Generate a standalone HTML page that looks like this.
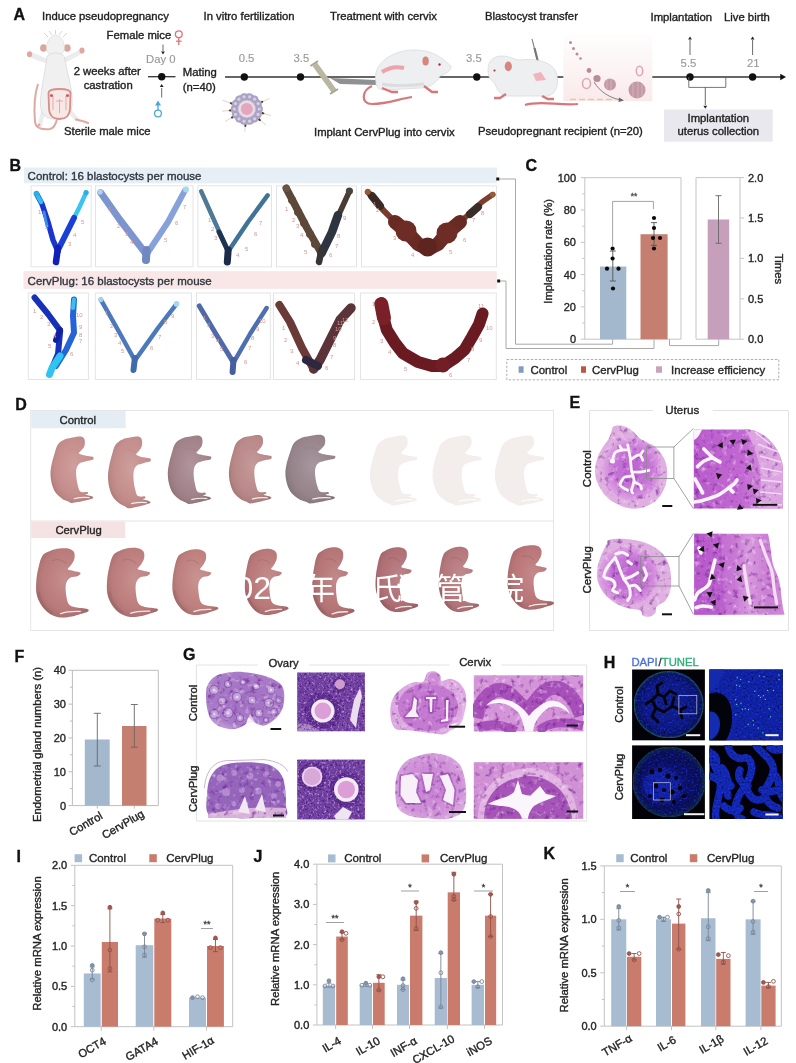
<!DOCTYPE html>
<html><head><meta charset="utf-8"><title>Figure</title>
<style>html,body{margin:0;padding:0;background:#fff;}body{width:796px;height:1063px;overflow:hidden;}svg{display:block;filter:blur(0.4px);}</style>
</head><body>
<svg width="796" height="1063" viewBox="0 0 796 1063" font-family='"Liberation Sans", Arial, sans-serif'>
<rect width="796" height="1063" fill="#fff"/>
<text x="13.5" y="20" font-size="16" fill="#111" font-weight="bold" stroke="#111" stroke-width="0.35">A</text>
<text x="42" y="19.8" font-size="11.3" fill="#222" stroke="#222" stroke-width="0.36">Induce pseudopregnancy</text>
<text x="203.5" y="19.8" font-size="11.3" fill="#222" stroke="#222" stroke-width="0.36">In vitro fertilization</text>
<text x="330" y="19.8" font-size="11.3" fill="#222" stroke="#222" stroke-width="0.36">Treatment with cervix</text>
<text x="485" y="19.8" font-size="11.3" fill="#222" stroke="#222" stroke-width="0.36">Blastocyst transfer</text>
<text x="650.5" y="21" font-size="11.3" fill="#222" stroke="#222" stroke-width="0.36">Implantation</text>
<text x="724" y="21" font-size="11.3" fill="#222" stroke="#222" stroke-width="0.36">Live birth</text>
<g><path d="M38,84 C34,96 34,110 35,122 C36,128 42,130 50,129 C54,128 56,124 57,119" fill="none" stroke="#dcaaa2" stroke-width="2"/>
<path d="M47,61 C41,59 35,57 30,54" fill="none" stroke="#ececec" stroke-width="5" stroke-linecap="round"/>
<path d="M65,60 C71,57 77,54 81.5,51" fill="none" stroke="#ececec" stroke-width="5" stroke-linecap="round"/>
<ellipse cx="29.5" cy="54.3" rx="2.6" ry="3" fill="#e0a8a0"/>
<ellipse cx="82" cy="50.5" rx="2.6" ry="3" fill="#e0a8a0"/>
<path d="M45,108 C42,114 41,120 40,125" fill="none" stroke="#ececec" stroke-width="4.5" stroke-linecap="round"/>
<path d="M69,110 C72,114 74,117 77,119" fill="none" stroke="#ececec" stroke-width="4.5" stroke-linecap="round"/>
<path d="M76,119.5 L84,121.5 L88,123" fill="none" stroke="#dfaaa2" stroke-width="2.2" stroke-linecap="round"/>
<path d="M40,124 L37,127" fill="none" stroke="#dfaaa2" stroke-width="2.2"/>
<ellipse cx="43.5" cy="48" rx="3.4" ry="3.8" fill="#d9a6a0"/>
<ellipse cx="67.3" cy="48" rx="3.4" ry="3.8" fill="#d9a6a0"/>
<path d="M55.5,35 C60,35 64.5,41 64.5,48 C64.5,53 60,56 55.5,56 C51,56 46.5,53 46.5,48 C46.5,41 51,35 55.5,35 Z" fill="#f1f1f1" stroke="#d8d8d8" stroke-width="0.6"/>
<path d="M47,57 C48,54 52,53 55.5,53 C59,53 63,54 64.5,57 L67,70 C70,82 73,96 72,106 C71,114 66,119 58,119 L54,119 C46,119 41,114 40.5,106 C40,96 43,82 45,70 Z" fill="#f0f0f0" stroke="#d6d6d6" stroke-width="0.7"/>
<path d="M48.5,93 C48.5,90 52,89 59.5,89 C67,89 70.5,90 70.5,93 L70,108 C70,116 65,119 59.5,119 C54,119 49,116 49,108 Z" fill="#f7e8e6" stroke="#d88e8a" stroke-width="1.8"/>
<path d="M53,96 L53,110 M66,96 L66,110 M59.5,99 L59.5,113 M56,101 L63,101" fill="none" stroke="#e4aaa6" stroke-width="1"/>
<circle cx="51.5" cy="95.5" r="1.6" fill="#c4606a"/>
<circle cx="67.5" cy="95.5" r="1.6" fill="#c4606a"/>
<path d="M48,37 L44,33 M63,37 L67,33 M55.5,34 L55.5,30 M52,35 L49,31 M59,35 L62,31" fill="none" stroke="#b8b8b8" stroke-width="0.6"/>
</g>
<text x="64" y="134.5" font-size="11.3" fill="#222" stroke="#222" stroke-width="0.36">Sterile male mice</text>
<text x="106.6" y="38.5" font-size="11.3" fill="#222" stroke="#222" stroke-width="0.36">Female mice</text>
<circle cx="178.8" cy="34.2" r="3.4" fill="none" stroke="#e07078" stroke-width="1.3"/>
<line x1="178.8" y1="37.6" x2="178.8" y2="45" stroke="#e07078" stroke-width="1.3"/>
<line x1="176" y1="41.2" x2="181.6" y2="41.2" stroke="#e07078" stroke-width="1.2"/>
<line x1="163" y1="44.5" x2="163" y2="51" stroke="#444" stroke-width="0.8"/>
<path d="M161.1,51.46 L164.9,51.46 L163,54.5 Z" fill="#222"/>
<text x="146" y="63" font-size="11.3" fill="#9a9a9a" stroke="#9a9a9a" stroke-width="0.15">Day 0</text>
<line x1="148" y1="76.7" x2="175.5" y2="76.7" stroke="#333" stroke-width="1.3"/>
<circle cx="161.7" cy="76.7" r="3.7" fill="#111"/>
<text x="73.7" y="75.4" font-size="11.3" fill="#222" stroke="#222" stroke-width="0.36">2 weeks after</text>
<text x="83.7" y="89.1" font-size="11.3" fill="#222" stroke="#222" stroke-width="0.36">castration</text>
<line x1="161.7" y1="97.5" x2="161.7" y2="88" stroke="#444" stroke-width="0.8"/>
<path d="M159.79999999999998,87.04 L163.6,87.04 L161.7,84 Z" fill="#222"/>
<circle cx="158" cy="113.5" r="3.4" fill="none" stroke="#4aa8d8" stroke-width="1.3"/>
<line x1="158" y1="110" x2="158" y2="104" stroke="#4aa8d8" stroke-width="1.3"/>
<path d="M155,105.5 L161,105.5 L158,100.5 Z" fill="#4aa8d8"/>
<text x="182.8" y="75.6" font-size="11.3" fill="#222" stroke="#222" stroke-width="0.36">Mating</text>
<text x="182.8" y="90.6" font-size="11.3" fill="#222" stroke="#222" stroke-width="0.36">(n=40)</text>
<line x1="225" y1="77" x2="782" y2="77" stroke="#333" stroke-width="1.3"/>
<path d="M780.24,73.8 L780.24,80.2 L786,77 Z" fill="#111"/>
<circle cx="244.3" cy="77" r="3.7" fill="#111"/>
<circle cx="300.5" cy="77" r="3.7" fill="#111"/>
<circle cx="476.8" cy="77" r="3.7" fill="#111"/>
<circle cx="690" cy="77" r="3.7" fill="#111"/>
<circle cx="752.6" cy="77" r="3.7" fill="#111"/>
<text x="238.7" y="61.5" font-size="11.3" fill="#9a9a9a" stroke="#9a9a9a" stroke-width="0.15">0.5</text>
<text x="293.5" y="61.5" font-size="11.3" fill="#9a9a9a" stroke="#9a9a9a" stroke-width="0.15">3.5</text>
<text x="466" y="61.5" font-size="11.3" fill="#9a9a9a" stroke="#9a9a9a" stroke-width="0.15">3.5</text>
<text x="680.6" y="67.3" font-size="11.3" fill="#9a9a9a" stroke="#9a9a9a" stroke-width="0.15">5.5</text>
<text x="747" y="67.3" font-size="11.3" fill="#9a9a9a" stroke="#9a9a9a" stroke-width="0.15">21</text>
<g><line x1="222.4" y1="100.1" x2="231.8" y2="103.5" stroke="#c9b9a8" stroke-width="0.6"/>
<ellipse cx="231.8" cy="103.5" rx="2.2" ry="1.1" fill="#5a3626" transform="rotate(200 231.8 103.5)"/>
<line x1="221.9" y1="111.2" x2="230.9" y2="110.4" stroke="#c9b9a8" stroke-width="0.6"/>
<ellipse cx="230.9" cy="110.4" rx="2.2" ry="1.1" fill="#5a3626" transform="rotate(175 230.9 110.4)"/>
<line x1="225.1" y1="121.5" x2="232.9" y2="117.0" stroke="#c9b9a8" stroke-width="0.6"/>
<ellipse cx="232.9" cy="117.0" rx="2.2" ry="1.1" fill="#5a3626" transform="rotate(150 232.9 117.0)"/>
<line x1="269.5" y1="98.4" x2="261.3" y2="102.2" stroke="#c9b9a8" stroke-width="0.6"/>
<ellipse cx="261.3" cy="102.2" rx="2.2" ry="1.1" fill="#5a3626" transform="rotate(335 261.3 102.2)"/>
<line x1="270.9" y1="115.5" x2="262.3" y2="113.1" stroke="#c9b9a8" stroke-width="0.6"/>
<ellipse cx="262.3" cy="113.1" rx="2.2" ry="1.1" fill="#5a3626" transform="rotate(15 262.3 113.1)"/>
<line x1="266.0" y1="125.1" x2="259.1" y2="119.3" stroke="#c9b9a8" stroke-width="0.6"/>
<ellipse cx="259.1" cy="119.3" rx="2.2" ry="1.1" fill="#5a3626" transform="rotate(40 259.1 119.3)"/>
<line x1="244.8" y1="131.9" x2="245.4" y2="124.9" stroke="#c9b9a8" stroke-width="0.6"/>
<ellipse cx="245.4" cy="124.9" rx="2.2" ry="1.1" fill="#5a3626" transform="rotate(95 245.4 124.9)"/>
<circle cx="246.8" cy="109" r="15.5" fill="#bdb8d2"/>
<circle cx="259.3" cy="109.0" r="3.6" fill="#aaa3c4"/>
<circle cx="259.3" cy="109.0" r="1.6" fill="#d6d2e6"/>
<circle cx="258.1" cy="114.4" r="3.6" fill="#aaa3c4"/>
<circle cx="258.1" cy="114.4" r="1.6" fill="#d6d2e6"/>
<circle cx="254.6" cy="118.8" r="3.6" fill="#aaa3c4"/>
<circle cx="254.6" cy="118.8" r="1.6" fill="#d6d2e6"/>
<circle cx="249.6" cy="121.2" r="3.6" fill="#aaa3c4"/>
<circle cx="249.6" cy="121.2" r="1.6" fill="#d6d2e6"/>
<circle cx="244.0" cy="121.2" r="3.6" fill="#aaa3c4"/>
<circle cx="244.0" cy="121.2" r="1.6" fill="#d6d2e6"/>
<circle cx="239.0" cy="118.8" r="3.6" fill="#aaa3c4"/>
<circle cx="239.0" cy="118.8" r="1.6" fill="#d6d2e6"/>
<circle cx="235.5" cy="114.4" r="3.6" fill="#aaa3c4"/>
<circle cx="235.5" cy="114.4" r="1.6" fill="#d6d2e6"/>
<circle cx="234.3" cy="109.0" r="3.6" fill="#aaa3c4"/>
<circle cx="234.3" cy="109.0" r="1.6" fill="#d6d2e6"/>
<circle cx="235.5" cy="103.6" r="3.6" fill="#aaa3c4"/>
<circle cx="235.5" cy="103.6" r="1.6" fill="#d6d2e6"/>
<circle cx="239.0" cy="99.2" r="3.6" fill="#aaa3c4"/>
<circle cx="239.0" cy="99.2" r="1.6" fill="#d6d2e6"/>
<circle cx="244.0" cy="96.8" r="3.6" fill="#aaa3c4"/>
<circle cx="244.0" cy="96.8" r="1.6" fill="#d6d2e6"/>
<circle cx="249.6" cy="96.8" r="3.6" fill="#aaa3c4"/>
<circle cx="249.6" cy="96.8" r="1.6" fill="#d6d2e6"/>
<circle cx="254.6" cy="99.2" r="3.6" fill="#aaa3c4"/>
<circle cx="254.6" cy="99.2" r="1.6" fill="#d6d2e6"/>
<circle cx="258.1" cy="103.6" r="3.6" fill="#aaa3c4"/>
<circle cx="258.1" cy="103.6" r="1.6" fill="#d6d2e6"/>
<circle cx="246.8" cy="109" r="8.5" fill="#e9dbe6"/>
<circle cx="246.8" cy="109" r="6" fill="#e3a6ba"/>
</g>
<path d="M330,78 L376,80 L376,85 L340,84 Z" fill="#8e9092"/>
<path d="M312.5,66 L317,62.5 L336.5,89.5 L332,93 Z" fill="#b9b79f"/>
<path d="M310.5,66 L318,61 M330,94 L338,89" fill="none" stroke="#a8a68e" stroke-width="2"/>
<path d="M372,86 C362,90 360,104 372,104 C388,104 398,99 412,97" fill="none" stroke="#d7777a" stroke-width="2.2"/>
<path d="M376,82 C372,64 392,50 414,50 C428,50 436,54 444,60 L451,66 C452,70 446,74 440,76 C436,84 428,88 420,88 L384,90 C378,90 376,86 376,82 Z" fill="#eeeff1" stroke="#d9dadd" stroke-width="0.8"/>
<path d="M382,84 C392,86 410,86 424,84" fill="none" stroke="#dcdde0" stroke-width="3"/>
<path d="M382,72 C388,68 396,66 404,68" fill="none" stroke="#eba3ad" stroke-width="4"/>
<ellipse cx="425.6" cy="61" rx="3.2" ry="4.5" fill="#d8857f"/>
<circle cx="439.5" cy="64.5" r="1.2" fill="#a33"/>
<path d="M382,88 L392,92 L398,92 M424,86 L432,92 L438,92" fill="none" stroke="#d7777a" stroke-width="2.4"/>
<line x1="532" y1="38.8" x2="540.3" y2="71.5" stroke="#8a8a8a" stroke-width="1.2"/>
<line x1="534.5" y1="48" x2="538" y2="62" stroke="#777" stroke-width="2.2"/>
<path d="M525,105 C540,100 560,106 578,104" fill="none" stroke="#d7777a" stroke-width="2.2"/>
<path d="M488,70 C488,60 494,56 502,56 C510,56 514,60 520,60 C536,58 552,62 556,72 C560,84 556,94 548,96 L506,96 C498,94 496,86 494,82 C490,80 488,76 488,70 Z" fill="#eeeff1" stroke="#d9dadd" stroke-width="0.8"/>
<ellipse cx="508.3" cy="66.4" rx="3.6" ry="4.8" fill="#d8857f"/>
<circle cx="494.5" cy="70.5" r="1.1" fill="#a33"/>
<path d="M533,74 L541,72 L546,80 L536,81 Z" fill="#f0b4bc"/>
<path d="M506,94 L500,98 L494,98 M542,96 L548,99 L554,99" fill="none" stroke="#d7777a" stroke-width="2.4"/>
<defs><linearGradient id="ins" x1="0" y1="0" x2="0" y2="1"><stop offset="0" stop-color="#fefdfd"/><stop offset="0.5" stop-color="#fcf4f4"/><stop offset="1" stop-color="#fae9ea"/></linearGradient></defs>
<rect x="563.3" y="34.7" width="89" height="66.3" fill="url(#ins)"/>
<circle cx="570.5" cy="42.5" r="1.5" fill="#b98a9a"/>
<circle cx="573.5" cy="48.5" r="1.5" fill="#b98a9a"/>
<circle cx="577" cy="54" r="1.5" fill="#b98a9a"/>
<circle cx="580.5" cy="58.5" r="1.3" fill="#b98a9a"/>
<circle cx="589" cy="70.5" r="2.4" fill="#b98a9a"/>
<circle cx="597" cy="78.5" r="3.6" fill="#b98a9a"/>
<ellipse cx="586.5" cy="83.5" rx="4" ry="5" fill="none" stroke="#e0a6b6" stroke-width="1.6"/>
<ellipse cx="639.5" cy="71" rx="3.2" ry="4.8" fill="none" stroke="#e0a6b6" stroke-width="1.6"/>
<circle cx="610" cy="84.5" r="6" fill="#c29aa6"/>
<circle cx="637" cy="90" r="8.5" fill="#c29aa6"/>
<path d="M607,80 L607,89 M611,79 L611,90 M633,83 L633,97 M638,82 L638,98 M642,84 L642,96" fill="none" stroke="#d9b6c0" stroke-width="0.8"/>
<path d="M594,82 C600,92 610,98 621,100" fill="none" stroke="#777" stroke-width="0.9"/>
<path d="M619,97.5 L624,100.5 L618.5,102 Z" fill="#666"/>
<line x1="570" y1="99.5" x2="616" y2="99.5" stroke="#f1c4a6" stroke-width="1.4" stroke-dasharray="6 3"/>
<line x1="690" y1="55" x2="690" y2="40" stroke="#444" stroke-width="0.8"/>
<path d="M688.1,39.54 L691.9,39.54 L690,36.5 Z" fill="#222"/>
<line x1="752.6" y1="55" x2="752.6" y2="40" stroke="#444" stroke-width="0.8"/>
<path d="M750.7,39.54 L754.5,39.54 L752.6,36.5 Z" fill="#222"/>
<polyline points="688.8,77 688.8,87.4 725.8,87.4 725.8,77" fill="none" stroke="#666" stroke-width="0.9"/>
<line x1="705.3" y1="87.4" x2="705.3" y2="105" stroke="#444" stroke-width="0.8"/>
<path d="M703.4,105.66 L707.1999999999999,105.66 L705.3,108.7 Z" fill="#222"/>
<rect x="664" y="109.5" width="108.7" height="32.2" fill="#e9e8ef"/>
<text x="718.3" y="121.6" font-size="11.3" fill="#222" text-anchor="middle" stroke="#222" stroke-width="0.36">Implantation</text>
<text x="718.3" y="135" font-size="11.3" fill="#222" text-anchor="middle" stroke="#222" stroke-width="0.36">uterus collection</text>
<text x="314" y="136" font-size="11.3" fill="#222" stroke="#222" stroke-width="0.36">Implant CervPlug into cervix</text>
<text x="478" y="135" font-size="11.3" fill="#222" stroke="#222" stroke-width="0.36">Pseudopregnant recipient (n=20)</text>
<text x="9.5" y="170.5" font-size="16" fill="#111" font-weight="bold" stroke="#111" stroke-width="0.35">B</text>
<rect x="24" y="167.5" width="473" height="15.8" fill="#e6eff5"/>
<text x="27.6" y="179.6" font-size="11.5" fill="#2f3640" stroke="#2f3640" stroke-width="0.36">Control: 16 blastocysts per mouse</text>
<rect x="23.5" y="271.2" width="473.3" height="17.6" fill="#f8e7e6"/>
<text x="27.6" y="284.5" font-size="11.5" fill="#2f3640" stroke="#2f3640" stroke-width="0.36">CervPlug: 16 blastocysts per mouse</text>
<rect x="31.1" y="185.8" width="60.1" height="81" fill="#fff" stroke="#e4e4e4" stroke-width="1"/>
<rect x="95.5" y="185.8" width="97.5" height="81" fill="#fff" stroke="#e4e4e4" stroke-width="1"/>
<rect x="197.9" y="185.8" width="73.6" height="81" fill="#fff" stroke="#e4e4e4" stroke-width="1"/>
<rect x="276.5" y="185.8" width="80" height="81" fill="#fff" stroke="#e4e4e4" stroke-width="1"/>
<rect x="361.5" y="185.8" width="135" height="81" fill="#fff" stroke="#e4e4e4" stroke-width="1"/>
<rect x="28.3" y="293" width="60.10000000000001" height="86.5" fill="#fff" stroke="#e4e4e4" stroke-width="1"/>
<rect x="95.3" y="293" width="96.2" height="86.5" fill="#fff" stroke="#e4e4e4" stroke-width="1"/>
<rect x="196.5" y="293" width="73.80000000000001" height="86.5" fill="#fff" stroke="#e4e4e4" stroke-width="1"/>
<rect x="273.5" y="293" width="81" height="86.5" fill="#fff" stroke="#e4e4e4" stroke-width="1"/>
<rect x="360.5" y="293" width="135.8" height="86.5" fill="#fff" stroke="#e4e4e4" stroke-width="1"/>
<path d="M36.5,193.7 L42,204 L48,222 L53,240 L57.9,251.3" fill="none" stroke="#1a34d0" stroke-width="5.5" stroke-linecap="round" stroke-linejoin="round"/>
<path d="M36.5,193.7 L41,202" fill="none" stroke="#2fc0f0" stroke-width="4.5" stroke-linecap="round" stroke-linejoin="round"/>
<path d="M86.1,192.6 L80,206 L74,218" fill="none" stroke="#3cc4f0" stroke-width="4.5" stroke-linecap="round" stroke-linejoin="round"/>
<path d="M74,218 L66,234 L58,250" fill="none" stroke="#1a40d8" stroke-width="6" stroke-linecap="round" stroke-linejoin="round"/>
<path d="M57.9,248 L56,262" fill="none" stroke="#1020b8" stroke-width="6.5" stroke-linecap="round" stroke-linejoin="round"/>
<path d="M44,212 L47,226" fill="none" stroke="#3a8ae8" stroke-width="3" stroke-linecap="round" stroke-linejoin="round"/>
<circle cx="36.5" cy="193.7" r="2.6" fill="#2ab0e6"/>
<circle cx="86.1" cy="192.6" r="2.6" fill="#2ab0e6"/>
<text x="38" y="214" font-size="6" fill="#d99590">1</text>
<text x="45" y="229" font-size="6" fill="#d99590">2</text>
<text x="68" y="246" font-size="6" fill="#d99590">3</text>
<text x="73" y="237" font-size="6" fill="#d99590">4</text>
<text x="81" y="224" font-size="6" fill="#d99590">5</text>
<path d="M100.6,192.6 L120,220 L146.5,254.5" fill="none" stroke="#7c95cf" stroke-width="7" stroke-linecap="round" stroke-linejoin="round"/>
<path d="M185,190.4 L168,222 L146.5,254.5" fill="none" stroke="#87a2db" stroke-width="6" stroke-linecap="round" stroke-linejoin="round"/>
<path d="M146.5,250 L146,260" fill="none" stroke="#6f88bf" stroke-width="8" stroke-linecap="round" stroke-linejoin="round"/>
<circle cx="186" cy="189.5" r="3" fill="#a8d8f0"/>
<circle cx="100" cy="192" r="2.8" fill="#b0d0ec"/>
<text x="108" y="211" font-size="6" fill="#d99590">1</text>
<text x="117" y="228" font-size="6" fill="#d99590">2</text>
<text x="125" y="236" font-size="6" fill="#d99590">3</text>
<text x="130" y="244" font-size="6" fill="#d99590">4</text>
<text x="164" y="242" font-size="6" fill="#d99590">5</text>
<text x="175" y="225" font-size="6" fill="#d99590">6</text>
<text x="183" y="209" font-size="6" fill="#d99590">7</text>
<path d="M201.2,191.3 L214,220 L228.2,251.4" fill="none" stroke="#4f7896" stroke-width="4.5" stroke-linecap="round" stroke-linejoin="round"/>
<path d="M219,232 L228.2,251.4" fill="none" stroke="#1f3352" stroke-width="5" stroke-linecap="round" stroke-linejoin="round"/>
<path d="M267.6,195.4 L248,222 L228.2,251.4" fill="none" stroke="#3f7498" stroke-width="4.5" stroke-linecap="round" stroke-linejoin="round"/>
<path d="M228.2,250 L227.3,262" fill="none" stroke="#1c2c48" stroke-width="7" stroke-linecap="round" stroke-linejoin="round"/>
<text x="208" y="222" font-size="6" fill="#d99590">1</text>
<text x="211" y="231" font-size="6" fill="#d99590">2</text>
<text x="214" y="240" font-size="6" fill="#d99590">3</text>
<text x="236" y="257" font-size="6" fill="#d99590">4</text>
<text x="245" y="251" font-size="6" fill="#d99590">5</text>
<text x="254" y="236" font-size="6" fill="#d99590">6</text>
<text x="259" y="225" font-size="6" fill="#d99590">7</text>
<path d="M286.2,188.2 L295,205 L307,228 L321.5,253.5" fill="none" stroke="#5c4838" stroke-width="7.5" stroke-linecap="round" stroke-linejoin="round"/>
<path d="M349.4,191.3 L340,212 L332,232 L321.5,253.5" fill="none" stroke="#4a3c34" stroke-width="5.5" stroke-linecap="round" stroke-linejoin="round"/>
<path d="M338,215 L332,232 L321.5,253.5" fill="none" stroke="#2e3440" stroke-width="8.5" stroke-linecap="round" stroke-linejoin="round"/>
<path d="M321.5,250 L319,262" fill="none" stroke="#3a3535" stroke-width="6.5" stroke-linecap="round" stroke-linejoin="round"/>
<circle cx="292" cy="200" r="4" fill="#5e4838"/>
<circle cx="298" cy="212" r="4" fill="#5e4838"/>
<circle cx="304" cy="223" r="4" fill="#5e4838"/>
<circle cx="310" cy="234" r="4" fill="#5e4838"/>
<circle cx="315" cy="244" r="4" fill="#5e4838"/>
<circle cx="286.5" cy="188.5" r="3.5" fill="#6a5545"/>
<circle cx="349.4" cy="191" r="3.6" fill="#4a4440"/>
<text x="285" y="211" font-size="6" fill="#d99590">1</text>
<text x="292" y="222" font-size="6" fill="#d99590">2</text>
<text x="296" y="228" font-size="6" fill="#d99590">3</text>
<text x="300" y="237" font-size="6" fill="#d99590">4</text>
<text x="304" y="254" font-size="6" fill="#d99590">5</text>
<text x="329" y="257" font-size="6" fill="#d99590">6</text>
<text x="335" y="248" font-size="6" fill="#d99590">7</text>
<text x="337" y="238" font-size="6" fill="#d99590">8</text>
<text x="343" y="220" font-size="6" fill="#d99590">9</text>
<path d="M367.8,191.9 L375,200 L383,209.8 L395,222" fill="none" stroke="#7a3a2c" stroke-width="6" stroke-linecap="round" stroke-linejoin="round"/>
<path d="M492.7,194.6 L482,202 L472,211.5 L460,222" fill="none" stroke="#7e3e2e" stroke-width="5.5" stroke-linecap="round" stroke-linejoin="round"/>
<path d="M372,196 L380,206" fill="none" stroke="#3a2a25" stroke-width="8" stroke-linecap="round" stroke-linejoin="round"/>
<path d="M470,214 L478,207" fill="none" stroke="#3a2d28" stroke-width="8" stroke-linecap="round" stroke-linejoin="round"/>
<path d="M395,222 L406,231 L418,244 L428,249 L438,244 L448,232 L460,222" fill="none" stroke="#6a2a24" stroke-width="14" stroke-linecap="round" stroke-linejoin="round"/>
<circle cx="406" cy="231" r="10.5" fill="#6e2c26"/>
<circle cx="447" cy="233" r="10.5" fill="#6e2c26"/>
<circle cx="427.6" cy="247" r="9.5" fill="#5e241f"/>
<circle cx="367.8" cy="191.9" r="2.8" fill="#9a5a38"/>
<circle cx="492.7" cy="194.6" r="2.8" fill="#9a5a38"/>
<text x="373" y="206" font-size="6" fill="#d99590">1</text>
<text x="376" y="212" font-size="6" fill="#d99590">2</text>
<text x="393" y="240" font-size="6" fill="#d99590">3</text>
<text x="411" y="257" font-size="6" fill="#d99590">4</text>
<text x="449" y="254" font-size="6" fill="#d99590">5</text>
<text x="463" y="242" font-size="6" fill="#d99590">6</text>
<text x="472" y="222" font-size="6" fill="#d99590">7</text>
<text x="481" y="215" font-size="6" fill="#d99590">8</text>
<path d="M34.5,297.5 L48,314 L60.2,330.6 L58,354 L52,368" fill="none" stroke="#1630b8" stroke-width="6" stroke-linecap="round" stroke-linejoin="round"/>
<path d="M74,299.6 L73,316 L74,332.7 L66,350 L56,366" fill="none" stroke="#2464d8" stroke-width="6" stroke-linecap="round" stroke-linejoin="round"/>
<path d="M74,299.6 L73,308" fill="none" stroke="#3ac0ee" stroke-width="4" stroke-linecap="round" stroke-linejoin="round"/>
<path d="M60,356 L52,368 L49.5,374.4" fill="none" stroke="#30c4f0" stroke-width="7" stroke-linecap="round" stroke-linejoin="round"/>
<path d="M56,340 L60,330" fill="none" stroke="#1020a0" stroke-width="6" stroke-linecap="round" stroke-linejoin="round"/>
<text x="33" y="313" font-size="6" fill="#d99590">1</text>
<text x="40" y="319" font-size="6" fill="#d99590">2</text>
<text x="47" y="326" font-size="6" fill="#d99590">3</text>
<text x="53" y="338" font-size="6" fill="#d99590">4</text>
<text x="48" y="348" font-size="6" fill="#d99590">5</text>
<text x="70" y="356" font-size="6" fill="#d99590">6</text>
<text x="79" y="343" font-size="6" fill="#d99590">7</text>
<text x="79" y="337" font-size="6" fill="#d99590">8</text>
<text x="79" y="329" font-size="6" fill="#d99590">9</text>
<text x="76" y="317" font-size="6" fill="#d99590">10</text>
<path d="M100.8,299.6 L118,330 L134.9,360.5" fill="none" stroke="#4a7abc" stroke-width="4.5" stroke-linecap="round" stroke-linejoin="round"/>
<path d="M176.6,303.9 L158,328 L134.9,360.5" fill="none" stroke="#4a7abc" stroke-width="4.5" stroke-linecap="round" stroke-linejoin="round"/>
<path d="M134.9,358 L133.5,370" fill="none" stroke="#3f6aab" stroke-width="6" stroke-linecap="round" stroke-linejoin="round"/>
<circle cx="100.8" cy="299.6" r="2.6" fill="#a8d0e8"/>
<circle cx="176.6" cy="303.9" r="2.8" fill="#a8d8ee"/>
<text x="105" y="315" font-size="6" fill="#d99590">1</text>
<text x="110" y="328" font-size="6" fill="#d99590">2</text>
<text x="114" y="337" font-size="6" fill="#d99590">3</text>
<text x="118" y="345" font-size="6" fill="#d99590">4</text>
<text x="121" y="353" font-size="6" fill="#d99590">5</text>
<text x="150" y="350" font-size="6" fill="#d99590">6</text>
<text x="158" y="339" font-size="6" fill="#d99590">7</text>
<text x="164" y="324" font-size="6" fill="#d99590">8</text>
<text x="171" y="318" font-size="6" fill="#d99590">9</text>
<path d="M199.3,306 L216,334 L233.5,362.6" fill="none" stroke="#5069a9" stroke-width="5" stroke-linecap="round" stroke-linejoin="round"/>
<path d="M266.6,308 L250,334 L233.5,362.6" fill="none" stroke="#4d6fb0" stroke-width="4.5" stroke-linecap="round" stroke-linejoin="round"/>
<path d="M233.5,360 L232.6,372" fill="none" stroke="#465f9f" stroke-width="6" stroke-linecap="round" stroke-linejoin="round"/>
<text x="203" y="320" font-size="6" fill="#d99590">1</text>
<text x="207" y="327" font-size="6" fill="#d99590">2</text>
<text x="211" y="338" font-size="6" fill="#d99590">3</text>
<text x="216" y="343" font-size="6" fill="#d99590">4</text>
<text x="220" y="351" font-size="6" fill="#d99590">5</text>
<text x="244" y="364" font-size="6" fill="#d99590">6</text>
<text x="248" y="350" font-size="6" fill="#d99590">7</text>
<text x="251" y="340" font-size="6" fill="#d99590">8</text>
<text x="256" y="331" font-size="6" fill="#d99590">9</text>
<text x="259" y="323" font-size="6" fill="#d99590">10</text>
<path d="M279.4,305 L290,322 L302,348 L313.6,369" fill="none" stroke="#6a3a36" stroke-width="8" stroke-linecap="round" stroke-linejoin="round"/>
<path d="M351,308 L340,320 L330,340 L320,360 L313.6,369" fill="none" stroke="#5a3438" stroke-width="9.5" stroke-linecap="round" stroke-linejoin="round"/>
<path d="M306,360 L318,366" fill="none" stroke="#2d2840" stroke-width="8" stroke-linecap="round" stroke-linejoin="round"/>
<text x="282" y="330" font-size="6" fill="#d99590">1</text>
<text x="284" y="342" font-size="6" fill="#d99590">2</text>
<text x="290" y="353" font-size="6" fill="#d99590">3</text>
<text x="296" y="365" font-size="6" fill="#d99590">4</text>
<text x="325" y="370" font-size="6" fill="#d99590">6</text>
<text x="330" y="359" font-size="6" fill="#d99590">7</text>
<text x="333" y="347" font-size="6" fill="#d99590">8</text>
<text x="333" y="340" font-size="6" fill="#d99590">9</text>
<text x="335" y="331" font-size="6" fill="#d99590">10</text>
<text x="337" y="325" font-size="6" fill="#d99590">11</text>
<text x="342" y="322" font-size="6" fill="#d99590">12</text>
<path d="M381.3,303.5 L383,316 L386.8,329.8 L395,343 L403,353.3 L418,362 L432,366 L442.8,366 L455,358 L464.5,349.7 L472,337 L479,324.4 L482.6,313.5" fill="none" stroke="#6a1b22" stroke-width="12" stroke-linecap="round" stroke-linejoin="round"/>
<path d="M381.3,304 L384,318" fill="none" stroke="#7a2028" stroke-width="14" stroke-linecap="round" stroke-linejoin="round"/>
<circle cx="442.8" cy="365" r="7.5" fill="#721e26"/>
<text x="372" y="306" font-size="6" fill="#d99590">1</text>
<text x="372" y="324" font-size="6" fill="#d99590">2</text>
<text x="380" y="343" font-size="6" fill="#d99590">3</text>
<text x="388" y="354" font-size="6" fill="#d99590">4</text>
<text x="404" y="371" font-size="6" fill="#d99590">5</text>
<text x="449" y="377" font-size="6" fill="#d99590">6</text>
<text x="467" y="362" font-size="6" fill="#d99590">7</text>
<text x="471" y="351" font-size="6" fill="#d99590">8</text>
<text x="479" y="342" font-size="6" fill="#d99590">9</text>
<text x="486" y="330" font-size="6" fill="#d99590">10</text>
<text x="478" y="308" font-size="6" fill="#d99590">11</text>
<rect x="496.3" y="177.5" width="3" height="3" fill="#111"/>
<rect x="497.2" y="279.5" width="3" height="3" fill="#111"/>
<polyline points="499,179 515.5,179 515.5,344.2 612.6,344.2 612.6,339" fill="none" stroke="#a8a8a8" stroke-width="1"/>
<polyline points="500,281 506,281 506,348.5 654,348.5 654,339" fill="none" stroke="#a8a8a8" stroke-width="1"/>
<polyline points="669.5,339 669.5,345.6 718.7,345.6 718.7,339" fill="none" stroke="#a8a8a8" stroke-width="1"/>
<text x="525.5" y="171" font-size="16" fill="#111" font-weight="bold" stroke="#111" stroke-width="0.35">C</text>
<polyline points="584.8,177.7 681,177.7 681,339.2 584.8,339.2 584.8,177.7" fill="none" stroke="#c4c4c4" stroke-width="1"/>
<line x1="580.8" y1="339.2" x2="584.8" y2="339.2" stroke="#c4c4c4" stroke-width="1"/>
<text x="576" y="343.09999999999997" font-size="11" fill="#262626" text-anchor="end" stroke="#262626" stroke-width="0.36">0</text>
<line x1="580.8" y1="306.9" x2="584.8" y2="306.9" stroke="#c4c4c4" stroke-width="1"/>
<text x="576" y="310.79999999999995" font-size="11" fill="#262626" text-anchor="end" stroke="#262626" stroke-width="0.36">20</text>
<line x1="580.8" y1="274.6" x2="584.8" y2="274.6" stroke="#c4c4c4" stroke-width="1"/>
<text x="576" y="278.5" font-size="11" fill="#262626" text-anchor="end" stroke="#262626" stroke-width="0.36">40</text>
<line x1="580.8" y1="242.29999999999998" x2="584.8" y2="242.29999999999998" stroke="#c4c4c4" stroke-width="1"/>
<text x="576" y="246.2" font-size="11" fill="#262626" text-anchor="end" stroke="#262626" stroke-width="0.36">60</text>
<line x1="580.8" y1="210.0" x2="584.8" y2="210.0" stroke="#c4c4c4" stroke-width="1"/>
<text x="576" y="213.9" font-size="11" fill="#262626" text-anchor="end" stroke="#262626" stroke-width="0.36">80</text>
<line x1="580.8" y1="177.7" x2="584.8" y2="177.7" stroke="#c4c4c4" stroke-width="1"/>
<text x="576" y="181.6" font-size="11" fill="#262626" text-anchor="end" stroke="#262626" stroke-width="0.36">100</text>
<line x1="582.3" y1="323.05" x2="584.8" y2="323.05" stroke="#c4c4c4" stroke-width="1"/>
<line x1="582.3" y1="290.75" x2="584.8" y2="290.75" stroke="#c4c4c4" stroke-width="1"/>
<line x1="582.3" y1="258.45" x2="584.8" y2="258.45" stroke="#c4c4c4" stroke-width="1"/>
<line x1="582.3" y1="226.14999999999998" x2="584.8" y2="226.14999999999998" stroke="#c4c4c4" stroke-width="1"/>
<line x1="582.3" y1="193.85" x2="584.8" y2="193.85" stroke="#c4c4c4" stroke-width="1"/>
<text x="552.4" y="251.3" font-size="11.3" fill="#262626" text-anchor="middle" transform="rotate(-90 552.4 251.3)" stroke="#262626" stroke-width="0.36">Implantation rate (%)</text>
<rect x="600" y="266.525" width="26.3" height="72.67500000000001" fill="#a3b8cd"/>
<rect x="640.5" y="234.225" width="27.1" height="104.975" fill="#c57f70"/>
<line x1="612.8" y1="281" x2="612.8" y2="251" stroke="#555" stroke-width="0.9"/>
<line x1="609.8" y1="281" x2="615.8" y2="281" stroke="#555" stroke-width="0.9"/>
<line x1="609.8" y1="251" x2="615.8" y2="251" stroke="#555" stroke-width="0.9"/>
<line x1="654" y1="245.4" x2="654" y2="222.6" stroke="#555" stroke-width="0.9"/>
<line x1="651" y1="245.4" x2="657" y2="245.4" stroke="#555" stroke-width="0.9"/>
<line x1="651" y1="222.6" x2="657" y2="222.6" stroke="#555" stroke-width="0.9"/>
<circle cx="612.6" cy="248.5" r="2.1" fill="#0a0a0a"/>
<circle cx="612.6" cy="258.5" r="2.1" fill="#0a0a0a"/>
<circle cx="607" cy="268.7" r="2.1" fill="#0a0a0a"/>
<circle cx="618.5" cy="268.7" r="2.1" fill="#0a0a0a"/>
<circle cx="613" cy="288.5" r="2.1" fill="#0a0a0a"/>
<circle cx="654" cy="218" r="2.1" fill="#0a0a0a"/>
<circle cx="654" cy="228" r="2.1" fill="#0a0a0a"/>
<circle cx="653" cy="238" r="2.1" fill="#0a0a0a"/>
<circle cx="660" cy="238" r="2.1" fill="#0a0a0a"/>
<circle cx="654" cy="248.5" r="2.1" fill="#0a0a0a"/>
<polyline points="612.6,246 612.6,201.4 653.4,201.4 653.4,209" fill="none" stroke="#9a9a9a" stroke-width="0.9"/>
<text x="634" y="199" font-size="8.5" fill="#555" text-anchor="middle" stroke="#555" stroke-width="0.36">**</text>
<polyline points="740,177.6 696,177.6 696,339.2 740,339.2" fill="none" stroke="#c4c4c4" stroke-width="1"/>
<line x1="740" y1="177.6" x2="740" y2="339.2" stroke="#c4c4c4" stroke-width="1"/>
<line x1="740" y1="177.6" x2="744" y2="177.6" stroke="#c4c4c4" stroke-width="1"/>
<text x="748" y="181.5" font-size="11" fill="#262626" stroke="#262626" stroke-width="0.36">2.0</text>
<line x1="740" y1="218.0" x2="744" y2="218.0" stroke="#c4c4c4" stroke-width="1"/>
<text x="748" y="221.9" font-size="11" fill="#262626" stroke="#262626" stroke-width="0.36">1.5</text>
<line x1="740" y1="258.4" x2="744" y2="258.4" stroke="#c4c4c4" stroke-width="1"/>
<text x="748" y="262.29999999999995" font-size="11" fill="#262626" stroke="#262626" stroke-width="0.36">1.0</text>
<line x1="740" y1="298.79999999999995" x2="744" y2="298.79999999999995" stroke="#c4c4c4" stroke-width="1"/>
<text x="748" y="302.69999999999993" font-size="11" fill="#262626" stroke="#262626" stroke-width="0.36">0.5</text>
<line x1="740" y1="339.2" x2="744" y2="339.2" stroke="#c4c4c4" stroke-width="1"/>
<text x="748" y="343.09999999999997" font-size="11" fill="#262626" stroke="#262626" stroke-width="0.36">0.0</text>
<rect x="707.7" y="219.5" width="21.5" height="119.69999999999999" fill="#c6a0bb"/>
<line x1="718.5" y1="195.7" x2="718.5" y2="243.3" stroke="#666" stroke-width="0.9"/>
<line x1="715.5" y1="195.7" x2="721.5" y2="195.7" stroke="#666" stroke-width="0.9"/>
<line x1="715.5" y1="243.3" x2="721.5" y2="243.3" stroke="#666" stroke-width="0.9"/>
<text x="774.5" y="269" font-size="11.3" fill="#262626" text-anchor="middle" transform="rotate(90 774.5 269)" stroke="#262626" stroke-width="0.36">Times</text>
<rect x="506.8" y="359.5" width="272" height="20.3" fill="none" stroke="#a8a8a8" stroke-width="0.9" stroke-dasharray="2.5 1.5"/>
<rect x="518.6" y="366.3" width="5" height="6.5" fill="#7f9dbd"/>
<text x="530.5" y="373.8" font-size="11.4" fill="#262626" stroke="#262626" stroke-width="0.36">Control</text>
<rect x="581" y="366.3" width="5" height="6.5" fill="#bf5545"/>
<text x="592" y="373.8" font-size="11.4" fill="#262626" stroke="#262626" stroke-width="0.36">CervPlug</text>
<rect x="656" y="366.3" width="6" height="6.5" fill="#c9a3ba"/>
<text x="671" y="373.8" font-size="11.4" fill="#262626" stroke="#262626" stroke-width="0.36">Increase efficiency</text>
<defs><radialGradient id="pupsh" cx="0.55" cy="0.45" r="0.6"><stop offset="0" stop-color="#fff" stop-opacity="0.18"/><stop offset="0.6" stop-color="#fff" stop-opacity="0.05"/><stop offset="1" stop-color="#000" stop-opacity="0.12"/></radialGradient></defs>
<text x="15.3" y="410.3" font-size="16" fill="#111" font-weight="bold" stroke="#111" stroke-width="0.35">D</text>
<rect x="30.7" y="410.5" width="522.8" height="220" fill="#fff" stroke="#e6e6e6" stroke-width="1"/>
<line x1="30.7" y1="521" x2="553.5" y2="521" stroke="#e2e2e2" stroke-width="1"/>
<rect x="31.2" y="411" width="94.4" height="17.2" fill="#e4edf4"/>
<text x="59.6" y="424" font-size="11.3" fill="#262626" stroke="#262626" stroke-width="0.36">Control</text>
<rect x="31.2" y="521.7" width="94" height="16.3" fill="#f5e3e3"/>
<text x="55.4" y="533.8" font-size="11.3" fill="#262626" stroke="#262626" stroke-width="0.36">CervPlug</text>
<g transform="translate(50.5,436.6) scale(1.0568,0.9822)" opacity="1.0"><path d="M18.0,1.6 C19.9,1.2 24.6,0.1 26.8,0.0 C29.0,-0.1 30.2,0.3 31.2,1.2 C32.1,2.0 32.4,3.7 32.5,5.1 C32.6,6.5 32.5,8.2 32.1,9.5 C31.7,10.8 31.0,11.7 30.3,12.6 C29.6,13.5 28.7,14.5 28.1,15.2 C27.5,15.9 26.4,16.4 26.8,17.0 C27.2,17.6 28.7,18.3 30.3,18.8 C31.9,19.3 34.8,19.7 36.5,20.1 C38.2,20.5 39.9,20.4 40.5,21.0 C41.1,21.6 40.8,23.0 40.0,23.6 C39.2,24.2 37.2,24.1 35.6,24.5 C34.0,24.9 31.6,25.8 30.3,26.2 C29.0,26.6 28.6,26.4 27.7,27.1 C26.8,27.8 25.7,29.1 25.1,30.6 C24.5,32.1 24.3,33.8 24.2,35.9 C24.1,38.0 24.3,40.6 24.6,43.0 C24.9,45.4 25.4,48.0 25.9,50.0 C26.4,52.0 26.8,54.2 27.7,55.3 C28.6,56.4 30.0,56.4 31.2,56.6 C32.4,56.8 34.0,56.1 34.7,56.3 C35.4,56.5 35.9,57.4 35.6,57.9 C35.3,58.4 32.5,58.8 33.0,59.2 C33.5,59.6 37.0,60.0 38.3,60.5 C39.5,61.0 40.4,61.4 40.5,61.9 C40.6,62.4 40.1,62.8 39.1,63.2 C38.1,63.6 36.9,63.9 34.7,64.5 C32.5,65.1 28.4,66.2 25.9,66.7 C23.4,67.2 21.4,67.8 19.8,67.6 C18.2,67.4 17.8,66.5 16.3,65.8 C14.8,65.1 12.9,64.7 11.0,63.2 C9.1,61.7 6.4,59.5 4.8,57.0 C3.2,54.5 2.1,51.4 1.3,48.2 C0.5,45.0 0.0,41.2 0.0,37.7 C0.0,34.2 0.6,30.6 1.3,27.1 C2.0,23.6 3.1,19.7 4.0,16.6 C4.9,13.5 5.4,10.8 6.6,8.7 C7.8,6.6 9.5,5.4 11.0,4.3 C12.5,3.2 14.2,2.5 15.4,2.1 C16.6,1.7 16.1,2.0 18.0,1.6 Z" fill="#c48a88"/>
<path d="M18.0,1.6 C19.9,1.2 24.6,0.1 26.8,0.0 C29.0,-0.1 30.2,0.3 31.2,1.2 C32.1,2.0 32.4,3.7 32.5,5.1 C32.6,6.5 32.5,8.2 32.1,9.5 C31.7,10.8 31.0,11.7 30.3,12.6 C29.6,13.5 28.7,14.5 28.1,15.2 C27.5,15.9 26.4,16.4 26.8,17.0 C27.2,17.6 28.7,18.3 30.3,18.8 C31.9,19.3 34.8,19.7 36.5,20.1 C38.2,20.5 39.9,20.4 40.5,21.0 C41.1,21.6 40.8,23.0 40.0,23.6 C39.2,24.2 37.2,24.1 35.6,24.5 C34.0,24.9 31.6,25.8 30.3,26.2 C29.0,26.6 28.6,26.4 27.7,27.1 C26.8,27.8 25.7,29.1 25.1,30.6 C24.5,32.1 24.3,33.8 24.2,35.9 C24.1,38.0 24.3,40.6 24.6,43.0 C24.9,45.4 25.4,48.0 25.9,50.0 C26.4,52.0 26.8,54.2 27.7,55.3 C28.6,56.4 30.0,56.4 31.2,56.6 C32.4,56.8 34.0,56.1 34.7,56.3 C35.4,56.5 35.9,57.4 35.6,57.9 C35.3,58.4 32.5,58.8 33.0,59.2 C33.5,59.6 37.0,60.0 38.3,60.5 C39.5,61.0 40.4,61.4 40.5,61.9 C40.6,62.4 40.1,62.8 39.1,63.2 C38.1,63.6 36.9,63.9 34.7,64.5 C32.5,65.1 28.4,66.2 25.9,66.7 C23.4,67.2 21.4,67.8 19.8,67.6 C18.2,67.4 17.8,66.5 16.3,65.8 C14.8,65.1 12.9,64.7 11.0,63.2 C9.1,61.7 6.4,59.5 4.8,57.0 C3.2,54.5 2.1,51.4 1.3,48.2 C0.5,45.0 0.0,41.2 0.0,37.7 C0.0,34.2 0.6,30.6 1.3,27.1 C2.0,23.6 3.1,19.7 4.0,16.6 C4.9,13.5 5.4,10.8 6.6,8.7 C7.8,6.6 9.5,5.4 11.0,4.3 C12.5,3.2 14.2,2.5 15.4,2.1 C16.6,1.7 16.1,2.0 18.0,1.6 Z" fill="url(#pupsh)"/>
<path d="M3,40 C4,50 9,58 17,63" fill="none" stroke="#c48a88" stroke-width="3" opacity="0.35"/>
<path d="M22,63.3 C27,62 32,61.6 37,62.2" fill="none" stroke="#fff" stroke-width="1.2" opacity="0.85"/>
<path d="M16,14 C20,12 24,12 27,16" fill="none" stroke="#c48a88" stroke-width="1.5" opacity="0.4"/>
</g>
<g transform="translate(108,436.4) scale(1.0494,1.0636)" opacity="1.0"><path d="M18.0,1.6 C19.9,1.2 24.6,0.1 26.8,0.0 C29.0,-0.1 30.2,0.3 31.2,1.2 C32.1,2.0 32.4,3.7 32.5,5.1 C32.6,6.5 32.5,8.2 32.1,9.5 C31.7,10.8 31.0,11.7 30.3,12.6 C29.6,13.5 28.7,14.5 28.1,15.2 C27.5,15.9 26.4,16.4 26.8,17.0 C27.2,17.6 28.7,18.3 30.3,18.8 C31.9,19.3 34.8,19.7 36.5,20.1 C38.2,20.5 39.9,20.4 40.5,21.0 C41.1,21.6 40.8,23.0 40.0,23.6 C39.2,24.2 37.2,24.1 35.6,24.5 C34.0,24.9 31.6,25.8 30.3,26.2 C29.0,26.6 28.6,26.4 27.7,27.1 C26.8,27.8 25.7,29.1 25.1,30.6 C24.5,32.1 24.3,33.8 24.2,35.9 C24.1,38.0 24.3,40.6 24.6,43.0 C24.9,45.4 25.4,48.0 25.9,50.0 C26.4,52.0 26.8,54.2 27.7,55.3 C28.6,56.4 30.0,56.4 31.2,56.6 C32.4,56.8 34.0,56.1 34.7,56.3 C35.4,56.5 35.9,57.4 35.6,57.9 C35.3,58.4 32.5,58.8 33.0,59.2 C33.5,59.6 37.0,60.0 38.3,60.5 C39.5,61.0 40.4,61.4 40.5,61.9 C40.6,62.4 40.1,62.8 39.1,63.2 C38.1,63.6 36.9,63.9 34.7,64.5 C32.5,65.1 28.4,66.2 25.9,66.7 C23.4,67.2 21.4,67.8 19.8,67.6 C18.2,67.4 17.8,66.5 16.3,65.8 C14.8,65.1 12.9,64.7 11.0,63.2 C9.1,61.7 6.4,59.5 4.8,57.0 C3.2,54.5 2.1,51.4 1.3,48.2 C0.5,45.0 0.0,41.2 0.0,37.7 C0.0,34.2 0.6,30.6 1.3,27.1 C2.0,23.6 3.1,19.7 4.0,16.6 C4.9,13.5 5.4,10.8 6.6,8.7 C7.8,6.6 9.5,5.4 11.0,4.3 C12.5,3.2 14.2,2.5 15.4,2.1 C16.6,1.7 16.1,2.0 18.0,1.6 Z" fill="#c28a88"/>
<path d="M18.0,1.6 C19.9,1.2 24.6,0.1 26.8,0.0 C29.0,-0.1 30.2,0.3 31.2,1.2 C32.1,2.0 32.4,3.7 32.5,5.1 C32.6,6.5 32.5,8.2 32.1,9.5 C31.7,10.8 31.0,11.7 30.3,12.6 C29.6,13.5 28.7,14.5 28.1,15.2 C27.5,15.9 26.4,16.4 26.8,17.0 C27.2,17.6 28.7,18.3 30.3,18.8 C31.9,19.3 34.8,19.7 36.5,20.1 C38.2,20.5 39.9,20.4 40.5,21.0 C41.1,21.6 40.8,23.0 40.0,23.6 C39.2,24.2 37.2,24.1 35.6,24.5 C34.0,24.9 31.6,25.8 30.3,26.2 C29.0,26.6 28.6,26.4 27.7,27.1 C26.8,27.8 25.7,29.1 25.1,30.6 C24.5,32.1 24.3,33.8 24.2,35.9 C24.1,38.0 24.3,40.6 24.6,43.0 C24.9,45.4 25.4,48.0 25.9,50.0 C26.4,52.0 26.8,54.2 27.7,55.3 C28.6,56.4 30.0,56.4 31.2,56.6 C32.4,56.8 34.0,56.1 34.7,56.3 C35.4,56.5 35.9,57.4 35.6,57.9 C35.3,58.4 32.5,58.8 33.0,59.2 C33.5,59.6 37.0,60.0 38.3,60.5 C39.5,61.0 40.4,61.4 40.5,61.9 C40.6,62.4 40.1,62.8 39.1,63.2 C38.1,63.6 36.9,63.9 34.7,64.5 C32.5,65.1 28.4,66.2 25.9,66.7 C23.4,67.2 21.4,67.8 19.8,67.6 C18.2,67.4 17.8,66.5 16.3,65.8 C14.8,65.1 12.9,64.7 11.0,63.2 C9.1,61.7 6.4,59.5 4.8,57.0 C3.2,54.5 2.1,51.4 1.3,48.2 C0.5,45.0 0.0,41.2 0.0,37.7 C0.0,34.2 0.6,30.6 1.3,27.1 C2.0,23.6 3.1,19.7 4.0,16.6 C4.9,13.5 5.4,10.8 6.6,8.7 C7.8,6.6 9.5,5.4 11.0,4.3 C12.5,3.2 14.2,2.5 15.4,2.1 C16.6,1.7 16.1,2.0 18.0,1.6 Z" fill="url(#pupsh)"/>
<path d="M3,40 C4,50 9,58 17,63" fill="none" stroke="#c28a88" stroke-width="3" opacity="0.35"/>
<path d="M22,63.3 C27,62 32,61.6 37,62.2" fill="none" stroke="#fff" stroke-width="1.2" opacity="0.85"/>
<path d="M16,14 C20,12 24,12 27,16" fill="none" stroke="#c28a88" stroke-width="1.5" opacity="0.4"/>
</g>
<g transform="translate(167.8,435.5) scale(1.0667,1.0133)" opacity="1.0"><path d="M18.0,1.6 C19.9,1.2 24.6,0.1 26.8,0.0 C29.0,-0.1 30.2,0.3 31.2,1.2 C32.1,2.0 32.4,3.7 32.5,5.1 C32.6,6.5 32.5,8.2 32.1,9.5 C31.7,10.8 31.0,11.7 30.3,12.6 C29.6,13.5 28.7,14.5 28.1,15.2 C27.5,15.9 26.4,16.4 26.8,17.0 C27.2,17.6 28.7,18.3 30.3,18.8 C31.9,19.3 34.8,19.7 36.5,20.1 C38.2,20.5 39.9,20.4 40.5,21.0 C41.1,21.6 40.8,23.0 40.0,23.6 C39.2,24.2 37.2,24.1 35.6,24.5 C34.0,24.9 31.6,25.8 30.3,26.2 C29.0,26.6 28.6,26.4 27.7,27.1 C26.8,27.8 25.7,29.1 25.1,30.6 C24.5,32.1 24.3,33.8 24.2,35.9 C24.1,38.0 24.3,40.6 24.6,43.0 C24.9,45.4 25.4,48.0 25.9,50.0 C26.4,52.0 26.8,54.2 27.7,55.3 C28.6,56.4 30.0,56.4 31.2,56.6 C32.4,56.8 34.0,56.1 34.7,56.3 C35.4,56.5 35.9,57.4 35.6,57.9 C35.3,58.4 32.5,58.8 33.0,59.2 C33.5,59.6 37.0,60.0 38.3,60.5 C39.5,61.0 40.4,61.4 40.5,61.9 C40.6,62.4 40.1,62.8 39.1,63.2 C38.1,63.6 36.9,63.9 34.7,64.5 C32.5,65.1 28.4,66.2 25.9,66.7 C23.4,67.2 21.4,67.8 19.8,67.6 C18.2,67.4 17.8,66.5 16.3,65.8 C14.8,65.1 12.9,64.7 11.0,63.2 C9.1,61.7 6.4,59.5 4.8,57.0 C3.2,54.5 2.1,51.4 1.3,48.2 C0.5,45.0 0.0,41.2 0.0,37.7 C0.0,34.2 0.6,30.6 1.3,27.1 C2.0,23.6 3.1,19.7 4.0,16.6 C4.9,13.5 5.4,10.8 6.6,8.7 C7.8,6.6 9.5,5.4 11.0,4.3 C12.5,3.2 14.2,2.5 15.4,2.1 C16.6,1.7 16.1,2.0 18.0,1.6 Z" fill="#a07e86"/>
<path d="M18.0,1.6 C19.9,1.2 24.6,0.1 26.8,0.0 C29.0,-0.1 30.2,0.3 31.2,1.2 C32.1,2.0 32.4,3.7 32.5,5.1 C32.6,6.5 32.5,8.2 32.1,9.5 C31.7,10.8 31.0,11.7 30.3,12.6 C29.6,13.5 28.7,14.5 28.1,15.2 C27.5,15.9 26.4,16.4 26.8,17.0 C27.2,17.6 28.7,18.3 30.3,18.8 C31.9,19.3 34.8,19.7 36.5,20.1 C38.2,20.5 39.9,20.4 40.5,21.0 C41.1,21.6 40.8,23.0 40.0,23.6 C39.2,24.2 37.2,24.1 35.6,24.5 C34.0,24.9 31.6,25.8 30.3,26.2 C29.0,26.6 28.6,26.4 27.7,27.1 C26.8,27.8 25.7,29.1 25.1,30.6 C24.5,32.1 24.3,33.8 24.2,35.9 C24.1,38.0 24.3,40.6 24.6,43.0 C24.9,45.4 25.4,48.0 25.9,50.0 C26.4,52.0 26.8,54.2 27.7,55.3 C28.6,56.4 30.0,56.4 31.2,56.6 C32.4,56.8 34.0,56.1 34.7,56.3 C35.4,56.5 35.9,57.4 35.6,57.9 C35.3,58.4 32.5,58.8 33.0,59.2 C33.5,59.6 37.0,60.0 38.3,60.5 C39.5,61.0 40.4,61.4 40.5,61.9 C40.6,62.4 40.1,62.8 39.1,63.2 C38.1,63.6 36.9,63.9 34.7,64.5 C32.5,65.1 28.4,66.2 25.9,66.7 C23.4,67.2 21.4,67.8 19.8,67.6 C18.2,67.4 17.8,66.5 16.3,65.8 C14.8,65.1 12.9,64.7 11.0,63.2 C9.1,61.7 6.4,59.5 4.8,57.0 C3.2,54.5 2.1,51.4 1.3,48.2 C0.5,45.0 0.0,41.2 0.0,37.7 C0.0,34.2 0.6,30.6 1.3,27.1 C2.0,23.6 3.1,19.7 4.0,16.6 C4.9,13.5 5.4,10.8 6.6,8.7 C7.8,6.6 9.5,5.4 11.0,4.3 C12.5,3.2 14.2,2.5 15.4,2.1 C16.6,1.7 16.1,2.0 18.0,1.6 Z" fill="url(#pupsh)"/>
<path d="M3,40 C4,50 9,58 17,63" fill="none" stroke="#a07e86" stroke-width="3" opacity="0.35"/>
<path d="M22,63.3 C27,62 32,61.6 37,62.2" fill="none" stroke="#fff" stroke-width="1.2" opacity="0.85"/>
<path d="M16,14 C20,12 24,12 27,16" fill="none" stroke="#a07e86" stroke-width="1.5" opacity="0.4"/>
</g>
<g transform="translate(228.9,435) scale(1.0494,1.0118)" opacity="1.0"><path d="M18.0,1.6 C19.9,1.2 24.6,0.1 26.8,0.0 C29.0,-0.1 30.2,0.3 31.2,1.2 C32.1,2.0 32.4,3.7 32.5,5.1 C32.6,6.5 32.5,8.2 32.1,9.5 C31.7,10.8 31.0,11.7 30.3,12.6 C29.6,13.5 28.7,14.5 28.1,15.2 C27.5,15.9 26.4,16.4 26.8,17.0 C27.2,17.6 28.7,18.3 30.3,18.8 C31.9,19.3 34.8,19.7 36.5,20.1 C38.2,20.5 39.9,20.4 40.5,21.0 C41.1,21.6 40.8,23.0 40.0,23.6 C39.2,24.2 37.2,24.1 35.6,24.5 C34.0,24.9 31.6,25.8 30.3,26.2 C29.0,26.6 28.6,26.4 27.7,27.1 C26.8,27.8 25.7,29.1 25.1,30.6 C24.5,32.1 24.3,33.8 24.2,35.9 C24.1,38.0 24.3,40.6 24.6,43.0 C24.9,45.4 25.4,48.0 25.9,50.0 C26.4,52.0 26.8,54.2 27.7,55.3 C28.6,56.4 30.0,56.4 31.2,56.6 C32.4,56.8 34.0,56.1 34.7,56.3 C35.4,56.5 35.9,57.4 35.6,57.9 C35.3,58.4 32.5,58.8 33.0,59.2 C33.5,59.6 37.0,60.0 38.3,60.5 C39.5,61.0 40.4,61.4 40.5,61.9 C40.6,62.4 40.1,62.8 39.1,63.2 C38.1,63.6 36.9,63.9 34.7,64.5 C32.5,65.1 28.4,66.2 25.9,66.7 C23.4,67.2 21.4,67.8 19.8,67.6 C18.2,67.4 17.8,66.5 16.3,65.8 C14.8,65.1 12.9,64.7 11.0,63.2 C9.1,61.7 6.4,59.5 4.8,57.0 C3.2,54.5 2.1,51.4 1.3,48.2 C0.5,45.0 0.0,41.2 0.0,37.7 C0.0,34.2 0.6,30.6 1.3,27.1 C2.0,23.6 3.1,19.7 4.0,16.6 C4.9,13.5 5.4,10.8 6.6,8.7 C7.8,6.6 9.5,5.4 11.0,4.3 C12.5,3.2 14.2,2.5 15.4,2.1 C16.6,1.7 16.1,2.0 18.0,1.6 Z" fill="#b88484"/>
<path d="M18.0,1.6 C19.9,1.2 24.6,0.1 26.8,0.0 C29.0,-0.1 30.2,0.3 31.2,1.2 C32.1,2.0 32.4,3.7 32.5,5.1 C32.6,6.5 32.5,8.2 32.1,9.5 C31.7,10.8 31.0,11.7 30.3,12.6 C29.6,13.5 28.7,14.5 28.1,15.2 C27.5,15.9 26.4,16.4 26.8,17.0 C27.2,17.6 28.7,18.3 30.3,18.8 C31.9,19.3 34.8,19.7 36.5,20.1 C38.2,20.5 39.9,20.4 40.5,21.0 C41.1,21.6 40.8,23.0 40.0,23.6 C39.2,24.2 37.2,24.1 35.6,24.5 C34.0,24.9 31.6,25.8 30.3,26.2 C29.0,26.6 28.6,26.4 27.7,27.1 C26.8,27.8 25.7,29.1 25.1,30.6 C24.5,32.1 24.3,33.8 24.2,35.9 C24.1,38.0 24.3,40.6 24.6,43.0 C24.9,45.4 25.4,48.0 25.9,50.0 C26.4,52.0 26.8,54.2 27.7,55.3 C28.6,56.4 30.0,56.4 31.2,56.6 C32.4,56.8 34.0,56.1 34.7,56.3 C35.4,56.5 35.9,57.4 35.6,57.9 C35.3,58.4 32.5,58.8 33.0,59.2 C33.5,59.6 37.0,60.0 38.3,60.5 C39.5,61.0 40.4,61.4 40.5,61.9 C40.6,62.4 40.1,62.8 39.1,63.2 C38.1,63.6 36.9,63.9 34.7,64.5 C32.5,65.1 28.4,66.2 25.9,66.7 C23.4,67.2 21.4,67.8 19.8,67.6 C18.2,67.4 17.8,66.5 16.3,65.8 C14.8,65.1 12.9,64.7 11.0,63.2 C9.1,61.7 6.4,59.5 4.8,57.0 C3.2,54.5 2.1,51.4 1.3,48.2 C0.5,45.0 0.0,41.2 0.0,37.7 C0.0,34.2 0.6,30.6 1.3,27.1 C2.0,23.6 3.1,19.7 4.0,16.6 C4.9,13.5 5.4,10.8 6.6,8.7 C7.8,6.6 9.5,5.4 11.0,4.3 C12.5,3.2 14.2,2.5 15.4,2.1 C16.6,1.7 16.1,2.0 18.0,1.6 Z" fill="url(#pupsh)"/>
<path d="M3,40 C4,50 9,58 17,63" fill="none" stroke="#b88484" stroke-width="3" opacity="0.35"/>
<path d="M22,63.3 C27,62 32,61.6 37,62.2" fill="none" stroke="#fff" stroke-width="1.2" opacity="0.85"/>
<path d="M16,14 C20,12 24,12 27,16" fill="none" stroke="#b88484" stroke-width="1.5" opacity="0.4"/>
</g>
<g transform="translate(285.4,434.8) scale(1.2247,1.0148)" opacity="1.0"><path d="M18.0,1.6 C19.9,1.2 24.6,0.1 26.8,0.0 C29.0,-0.1 30.2,0.3 31.2,1.2 C32.1,2.0 32.4,3.7 32.5,5.1 C32.6,6.5 32.5,8.2 32.1,9.5 C31.7,10.8 31.0,11.7 30.3,12.6 C29.6,13.5 28.7,14.5 28.1,15.2 C27.5,15.9 26.4,16.4 26.8,17.0 C27.2,17.6 28.7,18.3 30.3,18.8 C31.9,19.3 34.8,19.7 36.5,20.1 C38.2,20.5 39.9,20.4 40.5,21.0 C41.1,21.6 40.8,23.0 40.0,23.6 C39.2,24.2 37.2,24.1 35.6,24.5 C34.0,24.9 31.6,25.8 30.3,26.2 C29.0,26.6 28.6,26.4 27.7,27.1 C26.8,27.8 25.7,29.1 25.1,30.6 C24.5,32.1 24.3,33.8 24.2,35.9 C24.1,38.0 24.3,40.6 24.6,43.0 C24.9,45.4 25.4,48.0 25.9,50.0 C26.4,52.0 26.8,54.2 27.7,55.3 C28.6,56.4 30.0,56.4 31.2,56.6 C32.4,56.8 34.0,56.1 34.7,56.3 C35.4,56.5 35.9,57.4 35.6,57.9 C35.3,58.4 32.5,58.8 33.0,59.2 C33.5,59.6 37.0,60.0 38.3,60.5 C39.5,61.0 40.4,61.4 40.5,61.9 C40.6,62.4 40.1,62.8 39.1,63.2 C38.1,63.6 36.9,63.9 34.7,64.5 C32.5,65.1 28.4,66.2 25.9,66.7 C23.4,67.2 21.4,67.8 19.8,67.6 C18.2,67.4 17.8,66.5 16.3,65.8 C14.8,65.1 12.9,64.7 11.0,63.2 C9.1,61.7 6.4,59.5 4.8,57.0 C3.2,54.5 2.1,51.4 1.3,48.2 C0.5,45.0 0.0,41.2 0.0,37.7 C0.0,34.2 0.6,30.6 1.3,27.1 C2.0,23.6 3.1,19.7 4.0,16.6 C4.9,13.5 5.4,10.8 6.6,8.7 C7.8,6.6 9.5,5.4 11.0,4.3 C12.5,3.2 14.2,2.5 15.4,2.1 C16.6,1.7 16.1,2.0 18.0,1.6 Z" fill="#948088"/>
<path d="M18.0,1.6 C19.9,1.2 24.6,0.1 26.8,0.0 C29.0,-0.1 30.2,0.3 31.2,1.2 C32.1,2.0 32.4,3.7 32.5,5.1 C32.6,6.5 32.5,8.2 32.1,9.5 C31.7,10.8 31.0,11.7 30.3,12.6 C29.6,13.5 28.7,14.5 28.1,15.2 C27.5,15.9 26.4,16.4 26.8,17.0 C27.2,17.6 28.7,18.3 30.3,18.8 C31.9,19.3 34.8,19.7 36.5,20.1 C38.2,20.5 39.9,20.4 40.5,21.0 C41.1,21.6 40.8,23.0 40.0,23.6 C39.2,24.2 37.2,24.1 35.6,24.5 C34.0,24.9 31.6,25.8 30.3,26.2 C29.0,26.6 28.6,26.4 27.7,27.1 C26.8,27.8 25.7,29.1 25.1,30.6 C24.5,32.1 24.3,33.8 24.2,35.9 C24.1,38.0 24.3,40.6 24.6,43.0 C24.9,45.4 25.4,48.0 25.9,50.0 C26.4,52.0 26.8,54.2 27.7,55.3 C28.6,56.4 30.0,56.4 31.2,56.6 C32.4,56.8 34.0,56.1 34.7,56.3 C35.4,56.5 35.9,57.4 35.6,57.9 C35.3,58.4 32.5,58.8 33.0,59.2 C33.5,59.6 37.0,60.0 38.3,60.5 C39.5,61.0 40.4,61.4 40.5,61.9 C40.6,62.4 40.1,62.8 39.1,63.2 C38.1,63.6 36.9,63.9 34.7,64.5 C32.5,65.1 28.4,66.2 25.9,66.7 C23.4,67.2 21.4,67.8 19.8,67.6 C18.2,67.4 17.8,66.5 16.3,65.8 C14.8,65.1 12.9,64.7 11.0,63.2 C9.1,61.7 6.4,59.5 4.8,57.0 C3.2,54.5 2.1,51.4 1.3,48.2 C0.5,45.0 0.0,41.2 0.0,37.7 C0.0,34.2 0.6,30.6 1.3,27.1 C2.0,23.6 3.1,19.7 4.0,16.6 C4.9,13.5 5.4,10.8 6.6,8.7 C7.8,6.6 9.5,5.4 11.0,4.3 C12.5,3.2 14.2,2.5 15.4,2.1 C16.6,1.7 16.1,2.0 18.0,1.6 Z" fill="url(#pupsh)"/>
<path d="M3,40 C4,50 9,58 17,63" fill="none" stroke="#948088" stroke-width="3" opacity="0.35"/>
<path d="M22,63.3 C27,62 32,61.6 37,62.2" fill="none" stroke="#fff" stroke-width="1.2" opacity="0.85"/>
<path d="M16,14 C20,12 24,12 27,16" fill="none" stroke="#948088" stroke-width="1.5" opacity="0.4"/>
</g>
<g transform="translate(370,435.5) scale(1.1605,1.0355)" opacity="1.0"><path d="M18.0,1.6 C19.9,1.2 24.6,0.1 26.8,0.0 C29.0,-0.1 30.2,0.3 31.2,1.2 C32.1,2.0 32.4,3.7 32.5,5.1 C32.6,6.5 32.5,8.2 32.1,9.5 C31.7,10.8 31.0,11.7 30.3,12.6 C29.6,13.5 28.7,14.5 28.1,15.2 C27.5,15.9 26.4,16.4 26.8,17.0 C27.2,17.6 28.7,18.3 30.3,18.8 C31.9,19.3 34.8,19.7 36.5,20.1 C38.2,20.5 39.9,20.4 40.5,21.0 C41.1,21.6 40.8,23.0 40.0,23.6 C39.2,24.2 37.2,24.1 35.6,24.5 C34.0,24.9 31.6,25.8 30.3,26.2 C29.0,26.6 28.6,26.4 27.7,27.1 C26.8,27.8 25.7,29.1 25.1,30.6 C24.5,32.1 24.3,33.8 24.2,35.9 C24.1,38.0 24.3,40.6 24.6,43.0 C24.9,45.4 25.4,48.0 25.9,50.0 C26.4,52.0 26.8,54.2 27.7,55.3 C28.6,56.4 30.0,56.4 31.2,56.6 C32.4,56.8 34.0,56.1 34.7,56.3 C35.4,56.5 35.9,57.4 35.6,57.9 C35.3,58.4 32.5,58.8 33.0,59.2 C33.5,59.6 37.0,60.0 38.3,60.5 C39.5,61.0 40.4,61.4 40.5,61.9 C40.6,62.4 40.1,62.8 39.1,63.2 C38.1,63.6 36.9,63.9 34.7,64.5 C32.5,65.1 28.4,66.2 25.9,66.7 C23.4,67.2 21.4,67.8 19.8,67.6 C18.2,67.4 17.8,66.5 16.3,65.8 C14.8,65.1 12.9,64.7 11.0,63.2 C9.1,61.7 6.4,59.5 4.8,57.0 C3.2,54.5 2.1,51.4 1.3,48.2 C0.5,45.0 0.0,41.2 0.0,37.7 C0.0,34.2 0.6,30.6 1.3,27.1 C2.0,23.6 3.1,19.7 4.0,16.6 C4.9,13.5 5.4,10.8 6.6,8.7 C7.8,6.6 9.5,5.4 11.0,4.3 C12.5,3.2 14.2,2.5 15.4,2.1 C16.6,1.7 16.1,2.0 18.0,1.6 Z" fill="#f3edec"/>
<path d="M3,40 C4,50 9,58 17,63" fill="none" stroke="#f3edec" stroke-width="3" opacity="0.35"/>
<path d="M22,63.3 C27,62 32,61.6 37,62.2" fill="none" stroke="#fff" stroke-width="1.2" opacity="0.85"/>
<path d="M16,14 C20,12 24,12 27,16" fill="none" stroke="#f3edec" stroke-width="1.5" opacity="0.4"/>
</g>
<g transform="translate(432.5,435.5) scale(1.2049,1.0355)" opacity="1.0"><path d="M18.0,1.6 C19.9,1.2 24.6,0.1 26.8,0.0 C29.0,-0.1 30.2,0.3 31.2,1.2 C32.1,2.0 32.4,3.7 32.5,5.1 C32.6,6.5 32.5,8.2 32.1,9.5 C31.7,10.8 31.0,11.7 30.3,12.6 C29.6,13.5 28.7,14.5 28.1,15.2 C27.5,15.9 26.4,16.4 26.8,17.0 C27.2,17.6 28.7,18.3 30.3,18.8 C31.9,19.3 34.8,19.7 36.5,20.1 C38.2,20.5 39.9,20.4 40.5,21.0 C41.1,21.6 40.8,23.0 40.0,23.6 C39.2,24.2 37.2,24.1 35.6,24.5 C34.0,24.9 31.6,25.8 30.3,26.2 C29.0,26.6 28.6,26.4 27.7,27.1 C26.8,27.8 25.7,29.1 25.1,30.6 C24.5,32.1 24.3,33.8 24.2,35.9 C24.1,38.0 24.3,40.6 24.6,43.0 C24.9,45.4 25.4,48.0 25.9,50.0 C26.4,52.0 26.8,54.2 27.7,55.3 C28.6,56.4 30.0,56.4 31.2,56.6 C32.4,56.8 34.0,56.1 34.7,56.3 C35.4,56.5 35.9,57.4 35.6,57.9 C35.3,58.4 32.5,58.8 33.0,59.2 C33.5,59.6 37.0,60.0 38.3,60.5 C39.5,61.0 40.4,61.4 40.5,61.9 C40.6,62.4 40.1,62.8 39.1,63.2 C38.1,63.6 36.9,63.9 34.7,64.5 C32.5,65.1 28.4,66.2 25.9,66.7 C23.4,67.2 21.4,67.8 19.8,67.6 C18.2,67.4 17.8,66.5 16.3,65.8 C14.8,65.1 12.9,64.7 11.0,63.2 C9.1,61.7 6.4,59.5 4.8,57.0 C3.2,54.5 2.1,51.4 1.3,48.2 C0.5,45.0 0.0,41.2 0.0,37.7 C0.0,34.2 0.6,30.6 1.3,27.1 C2.0,23.6 3.1,19.7 4.0,16.6 C4.9,13.5 5.4,10.8 6.6,8.7 C7.8,6.6 9.5,5.4 11.0,4.3 C12.5,3.2 14.2,2.5 15.4,2.1 C16.6,1.7 16.1,2.0 18.0,1.6 Z" fill="#f3edec"/>
<path d="M3,40 C4,50 9,58 17,63" fill="none" stroke="#f3edec" stroke-width="3" opacity="0.35"/>
<path d="M22,63.3 C27,62 32,61.6 37,62.2" fill="none" stroke="#fff" stroke-width="1.2" opacity="0.85"/>
<path d="M16,14 C20,12 24,12 27,16" fill="none" stroke="#f3edec" stroke-width="1.5" opacity="0.4"/>
</g>
<g transform="translate(494.9,435.5) scale(1.2049,1.0355)" opacity="1.0"><path d="M18.0,1.6 C19.9,1.2 24.6,0.1 26.8,0.0 C29.0,-0.1 30.2,0.3 31.2,1.2 C32.1,2.0 32.4,3.7 32.5,5.1 C32.6,6.5 32.5,8.2 32.1,9.5 C31.7,10.8 31.0,11.7 30.3,12.6 C29.6,13.5 28.7,14.5 28.1,15.2 C27.5,15.9 26.4,16.4 26.8,17.0 C27.2,17.6 28.7,18.3 30.3,18.8 C31.9,19.3 34.8,19.7 36.5,20.1 C38.2,20.5 39.9,20.4 40.5,21.0 C41.1,21.6 40.8,23.0 40.0,23.6 C39.2,24.2 37.2,24.1 35.6,24.5 C34.0,24.9 31.6,25.8 30.3,26.2 C29.0,26.6 28.6,26.4 27.7,27.1 C26.8,27.8 25.7,29.1 25.1,30.6 C24.5,32.1 24.3,33.8 24.2,35.9 C24.1,38.0 24.3,40.6 24.6,43.0 C24.9,45.4 25.4,48.0 25.9,50.0 C26.4,52.0 26.8,54.2 27.7,55.3 C28.6,56.4 30.0,56.4 31.2,56.6 C32.4,56.8 34.0,56.1 34.7,56.3 C35.4,56.5 35.9,57.4 35.6,57.9 C35.3,58.4 32.5,58.8 33.0,59.2 C33.5,59.6 37.0,60.0 38.3,60.5 C39.5,61.0 40.4,61.4 40.5,61.9 C40.6,62.4 40.1,62.8 39.1,63.2 C38.1,63.6 36.9,63.9 34.7,64.5 C32.5,65.1 28.4,66.2 25.9,66.7 C23.4,67.2 21.4,67.8 19.8,67.6 C18.2,67.4 17.8,66.5 16.3,65.8 C14.8,65.1 12.9,64.7 11.0,63.2 C9.1,61.7 6.4,59.5 4.8,57.0 C3.2,54.5 2.1,51.4 1.3,48.2 C0.5,45.0 0.0,41.2 0.0,37.7 C0.0,34.2 0.6,30.6 1.3,27.1 C2.0,23.6 3.1,19.7 4.0,16.6 C4.9,13.5 5.4,10.8 6.6,8.7 C7.8,6.6 9.5,5.4 11.0,4.3 C12.5,3.2 14.2,2.5 15.4,2.1 C16.6,1.7 16.1,2.0 18.0,1.6 Z" fill="#f3edec"/>
<path d="M3,40 C4,50 9,58 17,63" fill="none" stroke="#f3edec" stroke-width="3" opacity="0.35"/>
<path d="M22,63.3 C27,62 32,61.6 37,62.2" fill="none" stroke="#fff" stroke-width="1.2" opacity="0.85"/>
<path d="M16,14 C20,12 24,12 27,16" fill="none" stroke="#f3edec" stroke-width="1.5" opacity="0.4"/>
</g>
<g transform="translate(35.4,548.3) scale(1.0300,1.0313)"><path d="M9.3,4.9 C11.5,3.5 15.6,1.6 19.1,0.8 C22.7,-0.0 27.6,-0.4 30.6,0.0 C33.6,0.4 35.9,1.6 37.1,3.2 C38.3,4.8 38.3,7.6 37.9,9.8 C37.5,12.0 35.7,14.5 34.6,16.3 C33.5,18.1 31.0,19.4 31.4,20.4 C31.8,21.3 35.1,21.4 37.1,22.0 C39.1,22.6 42.9,22.9 43.6,23.7 C44.3,24.5 42.8,26.1 41.2,26.9 C39.6,27.7 35.7,27.4 33.8,28.6 C31.9,29.8 30.4,31.7 29.7,34.3 C29.0,36.9 29.3,40.8 29.7,44.1 C30.1,47.4 30.7,51.7 32.2,53.9 C33.7,56.1 35.7,56.4 38.7,57.2 C41.7,58.0 48.2,58.1 50.2,58.8 C52.2,59.5 52.1,60.4 51.0,61.2 C49.9,62.0 46.2,62.9 43.6,63.7 C41.0,64.5 38.7,65.5 35.4,66.1 C32.1,66.6 27.5,67.4 24.0,67.0 C20.5,66.6 17.2,65.6 14.2,63.7 C11.2,61.8 8.2,58.8 6.0,55.5 C3.8,52.2 1.9,48.5 1.1,44.1 C0.3,39.8 0.7,34.0 1.1,29.4 C1.5,24.8 2.8,19.7 3.6,16.3 C4.4,12.9 5.0,10.9 6.0,9.0 C7.0,7.1 7.1,6.3 9.3,4.9 Z" fill="#b97676"/>
<path d="M9.3,4.9 C11.5,3.5 15.6,1.6 19.1,0.8 C22.7,-0.0 27.6,-0.4 30.6,0.0 C33.6,0.4 35.9,1.6 37.1,3.2 C38.3,4.8 38.3,7.6 37.9,9.8 C37.5,12.0 35.7,14.5 34.6,16.3 C33.5,18.1 31.0,19.4 31.4,20.4 C31.8,21.3 35.1,21.4 37.1,22.0 C39.1,22.6 42.9,22.9 43.6,23.7 C44.3,24.5 42.8,26.1 41.2,26.9 C39.6,27.7 35.7,27.4 33.8,28.6 C31.9,29.8 30.4,31.7 29.7,34.3 C29.0,36.9 29.3,40.8 29.7,44.1 C30.1,47.4 30.7,51.7 32.2,53.9 C33.7,56.1 35.7,56.4 38.7,57.2 C41.7,58.0 48.2,58.1 50.2,58.8 C52.2,59.5 52.1,60.4 51.0,61.2 C49.9,62.0 46.2,62.9 43.6,63.7 C41.0,64.5 38.7,65.5 35.4,66.1 C32.1,66.6 27.5,67.4 24.0,67.0 C20.5,66.6 17.2,65.6 14.2,63.7 C11.2,61.8 8.2,58.8 6.0,55.5 C3.8,52.2 1.9,48.5 1.1,44.1 C0.3,39.8 0.7,34.0 1.1,29.4 C1.5,24.8 2.8,19.7 3.6,16.3 C4.4,12.9 5.0,10.9 6.0,9.0 C7.0,7.1 7.1,6.3 9.3,4.9 Z" fill="url(#pupsh)"/>
<path d="M3,42 C4,52 9,59 17,63" fill="none" stroke="#b97676" stroke-width="3" opacity="0.35" filter="brightness(0.8)"/>
<path d="M24,63.5 C30,61.5 37,61 44,61.3" fill="none" stroke="#fff" stroke-width="1.3" opacity="0.85"/>
<path d="M16,12 C21,10 26,11 30,15" fill="none" stroke="#000" stroke-width="1.2" opacity="0.08"/>
</g>
<g transform="translate(106.2,548) scale(1.0014,1.0299)"><path d="M9.3,4.9 C11.5,3.5 15.6,1.6 19.1,0.8 C22.7,-0.0 27.6,-0.4 30.6,0.0 C33.6,0.4 35.9,1.6 37.1,3.2 C38.3,4.8 38.3,7.6 37.9,9.8 C37.5,12.0 35.7,14.5 34.6,16.3 C33.5,18.1 31.0,19.4 31.4,20.4 C31.8,21.3 35.1,21.4 37.1,22.0 C39.1,22.6 42.9,22.9 43.6,23.7 C44.3,24.5 42.8,26.1 41.2,26.9 C39.6,27.7 35.7,27.4 33.8,28.6 C31.9,29.8 30.4,31.7 29.7,34.3 C29.0,36.9 29.3,40.8 29.7,44.1 C30.1,47.4 30.7,51.7 32.2,53.9 C33.7,56.1 35.7,56.4 38.7,57.2 C41.7,58.0 48.2,58.1 50.2,58.8 C52.2,59.5 52.1,60.4 51.0,61.2 C49.9,62.0 46.2,62.9 43.6,63.7 C41.0,64.5 38.7,65.5 35.4,66.1 C32.1,66.6 27.5,67.4 24.0,67.0 C20.5,66.6 17.2,65.6 14.2,63.7 C11.2,61.8 8.2,58.8 6.0,55.5 C3.8,52.2 1.9,48.5 1.1,44.1 C0.3,39.8 0.7,34.0 1.1,29.4 C1.5,24.8 2.8,19.7 3.6,16.3 C4.4,12.9 5.0,10.9 6.0,9.0 C7.0,7.1 7.1,6.3 9.3,4.9 Z" fill="#bb7878"/>
<path d="M9.3,4.9 C11.5,3.5 15.6,1.6 19.1,0.8 C22.7,-0.0 27.6,-0.4 30.6,0.0 C33.6,0.4 35.9,1.6 37.1,3.2 C38.3,4.8 38.3,7.6 37.9,9.8 C37.5,12.0 35.7,14.5 34.6,16.3 C33.5,18.1 31.0,19.4 31.4,20.4 C31.8,21.3 35.1,21.4 37.1,22.0 C39.1,22.6 42.9,22.9 43.6,23.7 C44.3,24.5 42.8,26.1 41.2,26.9 C39.6,27.7 35.7,27.4 33.8,28.6 C31.9,29.8 30.4,31.7 29.7,34.3 C29.0,36.9 29.3,40.8 29.7,44.1 C30.1,47.4 30.7,51.7 32.2,53.9 C33.7,56.1 35.7,56.4 38.7,57.2 C41.7,58.0 48.2,58.1 50.2,58.8 C52.2,59.5 52.1,60.4 51.0,61.2 C49.9,62.0 46.2,62.9 43.6,63.7 C41.0,64.5 38.7,65.5 35.4,66.1 C32.1,66.6 27.5,67.4 24.0,67.0 C20.5,66.6 17.2,65.6 14.2,63.7 C11.2,61.8 8.2,58.8 6.0,55.5 C3.8,52.2 1.9,48.5 1.1,44.1 C0.3,39.8 0.7,34.0 1.1,29.4 C1.5,24.8 2.8,19.7 3.6,16.3 C4.4,12.9 5.0,10.9 6.0,9.0 C7.0,7.1 7.1,6.3 9.3,4.9 Z" fill="url(#pupsh)"/>
<path d="M3,42 C4,52 9,59 17,63" fill="none" stroke="#bb7878" stroke-width="3" opacity="0.35" filter="brightness(0.8)"/>
<path d="M24,63.5 C30,61.5 37,61 44,61.3" fill="none" stroke="#fff" stroke-width="1.3" opacity="0.85"/>
<path d="M16,12 C21,10 26,11 30,15" fill="none" stroke="#000" stroke-width="1.2" opacity="0.08"/>
</g>
<g transform="translate(171.8,549.4) scale(0.9006,0.9791)"><path d="M9.3,4.9 C11.5,3.5 15.6,1.6 19.1,0.8 C22.7,-0.0 27.6,-0.4 30.6,0.0 C33.6,0.4 35.9,1.6 37.1,3.2 C38.3,4.8 38.3,7.6 37.9,9.8 C37.5,12.0 35.7,14.5 34.6,16.3 C33.5,18.1 31.0,19.4 31.4,20.4 C31.8,21.3 35.1,21.4 37.1,22.0 C39.1,22.6 42.9,22.9 43.6,23.7 C44.3,24.5 42.8,26.1 41.2,26.9 C39.6,27.7 35.7,27.4 33.8,28.6 C31.9,29.8 30.4,31.7 29.7,34.3 C29.0,36.9 29.3,40.8 29.7,44.1 C30.1,47.4 30.7,51.7 32.2,53.9 C33.7,56.1 35.7,56.4 38.7,57.2 C41.7,58.0 48.2,58.1 50.2,58.8 C52.2,59.5 52.1,60.4 51.0,61.2 C49.9,62.0 46.2,62.9 43.6,63.7 C41.0,64.5 38.7,65.5 35.4,66.1 C32.1,66.6 27.5,67.4 24.0,67.0 C20.5,66.6 17.2,65.6 14.2,63.7 C11.2,61.8 8.2,58.8 6.0,55.5 C3.8,52.2 1.9,48.5 1.1,44.1 C0.3,39.8 0.7,34.0 1.1,29.4 C1.5,24.8 2.8,19.7 3.6,16.3 C4.4,12.9 5.0,10.9 6.0,9.0 C7.0,7.1 7.1,6.3 9.3,4.9 Z" fill="#bd7c7a"/>
<path d="M9.3,4.9 C11.5,3.5 15.6,1.6 19.1,0.8 C22.7,-0.0 27.6,-0.4 30.6,0.0 C33.6,0.4 35.9,1.6 37.1,3.2 C38.3,4.8 38.3,7.6 37.9,9.8 C37.5,12.0 35.7,14.5 34.6,16.3 C33.5,18.1 31.0,19.4 31.4,20.4 C31.8,21.3 35.1,21.4 37.1,22.0 C39.1,22.6 42.9,22.9 43.6,23.7 C44.3,24.5 42.8,26.1 41.2,26.9 C39.6,27.7 35.7,27.4 33.8,28.6 C31.9,29.8 30.4,31.7 29.7,34.3 C29.0,36.9 29.3,40.8 29.7,44.1 C30.1,47.4 30.7,51.7 32.2,53.9 C33.7,56.1 35.7,56.4 38.7,57.2 C41.7,58.0 48.2,58.1 50.2,58.8 C52.2,59.5 52.1,60.4 51.0,61.2 C49.9,62.0 46.2,62.9 43.6,63.7 C41.0,64.5 38.7,65.5 35.4,66.1 C32.1,66.6 27.5,67.4 24.0,67.0 C20.5,66.6 17.2,65.6 14.2,63.7 C11.2,61.8 8.2,58.8 6.0,55.5 C3.8,52.2 1.9,48.5 1.1,44.1 C0.3,39.8 0.7,34.0 1.1,29.4 C1.5,24.8 2.8,19.7 3.6,16.3 C4.4,12.9 5.0,10.9 6.0,9.0 C7.0,7.1 7.1,6.3 9.3,4.9 Z" fill="url(#pupsh)"/>
<path d="M3,42 C4,52 9,59 17,63" fill="none" stroke="#bd7c7a" stroke-width="3" opacity="0.35" filter="brightness(0.8)"/>
<path d="M24,63.5 C30,61.5 37,61 44,61.3" fill="none" stroke="#fff" stroke-width="1.3" opacity="0.85"/>
<path d="M16,12 C21,10 26,11 30,15" fill="none" stroke="#000" stroke-width="1.2" opacity="0.08"/>
</g>
<g transform="translate(244.3,549) scale(0.8543,0.9851)"><path d="M9.3,4.9 C11.5,3.5 15.6,1.6 19.1,0.8 C22.7,-0.0 27.6,-0.4 30.6,0.0 C33.6,0.4 35.9,1.6 37.1,3.2 C38.3,4.8 38.3,7.6 37.9,9.8 C37.5,12.0 35.7,14.5 34.6,16.3 C33.5,18.1 31.0,19.4 31.4,20.4 C31.8,21.3 35.1,21.4 37.1,22.0 C39.1,22.6 42.9,22.9 43.6,23.7 C44.3,24.5 42.8,26.1 41.2,26.9 C39.6,27.7 35.7,27.4 33.8,28.6 C31.9,29.8 30.4,31.7 29.7,34.3 C29.0,36.9 29.3,40.8 29.7,44.1 C30.1,47.4 30.7,51.7 32.2,53.9 C33.7,56.1 35.7,56.4 38.7,57.2 C41.7,58.0 48.2,58.1 50.2,58.8 C52.2,59.5 52.1,60.4 51.0,61.2 C49.9,62.0 46.2,62.9 43.6,63.7 C41.0,64.5 38.7,65.5 35.4,66.1 C32.1,66.6 27.5,67.4 24.0,67.0 C20.5,66.6 17.2,65.6 14.2,63.7 C11.2,61.8 8.2,58.8 6.0,55.5 C3.8,52.2 1.9,48.5 1.1,44.1 C0.3,39.8 0.7,34.0 1.1,29.4 C1.5,24.8 2.8,19.7 3.6,16.3 C4.4,12.9 5.0,10.9 6.0,9.0 C7.0,7.1 7.1,6.3 9.3,4.9 Z" fill="#b87474"/>
<path d="M9.3,4.9 C11.5,3.5 15.6,1.6 19.1,0.8 C22.7,-0.0 27.6,-0.4 30.6,0.0 C33.6,0.4 35.9,1.6 37.1,3.2 C38.3,4.8 38.3,7.6 37.9,9.8 C37.5,12.0 35.7,14.5 34.6,16.3 C33.5,18.1 31.0,19.4 31.4,20.4 C31.8,21.3 35.1,21.4 37.1,22.0 C39.1,22.6 42.9,22.9 43.6,23.7 C44.3,24.5 42.8,26.1 41.2,26.9 C39.6,27.7 35.7,27.4 33.8,28.6 C31.9,29.8 30.4,31.7 29.7,34.3 C29.0,36.9 29.3,40.8 29.7,44.1 C30.1,47.4 30.7,51.7 32.2,53.9 C33.7,56.1 35.7,56.4 38.7,57.2 C41.7,58.0 48.2,58.1 50.2,58.8 C52.2,59.5 52.1,60.4 51.0,61.2 C49.9,62.0 46.2,62.9 43.6,63.7 C41.0,64.5 38.7,65.5 35.4,66.1 C32.1,66.6 27.5,67.4 24.0,67.0 C20.5,66.6 17.2,65.6 14.2,63.7 C11.2,61.8 8.2,58.8 6.0,55.5 C3.8,52.2 1.9,48.5 1.1,44.1 C0.3,39.8 0.7,34.0 1.1,29.4 C1.5,24.8 2.8,19.7 3.6,16.3 C4.4,12.9 5.0,10.9 6.0,9.0 C7.0,7.1 7.1,6.3 9.3,4.9 Z" fill="url(#pupsh)"/>
<path d="M3,42 C4,52 9,59 17,63" fill="none" stroke="#b87474" stroke-width="3" opacity="0.35" filter="brightness(0.8)"/>
<path d="M24,63.5 C30,61.5 37,61 44,61.3" fill="none" stroke="#fff" stroke-width="1.3" opacity="0.85"/>
<path d="M16,12 C21,10 26,11 30,15" fill="none" stroke="#000" stroke-width="1.2" opacity="0.08"/>
</g>
<g transform="translate(311.7,547.4) scale(0.8284,1.0507)"><path d="M9.3,4.9 C11.5,3.5 15.6,1.6 19.1,0.8 C22.7,-0.0 27.6,-0.4 30.6,0.0 C33.6,0.4 35.9,1.6 37.1,3.2 C38.3,4.8 38.3,7.6 37.9,9.8 C37.5,12.0 35.7,14.5 34.6,16.3 C33.5,18.1 31.0,19.4 31.4,20.4 C31.8,21.3 35.1,21.4 37.1,22.0 C39.1,22.6 42.9,22.9 43.6,23.7 C44.3,24.5 42.8,26.1 41.2,26.9 C39.6,27.7 35.7,27.4 33.8,28.6 C31.9,29.8 30.4,31.7 29.7,34.3 C29.0,36.9 29.3,40.8 29.7,44.1 C30.1,47.4 30.7,51.7 32.2,53.9 C33.7,56.1 35.7,56.4 38.7,57.2 C41.7,58.0 48.2,58.1 50.2,58.8 C52.2,59.5 52.1,60.4 51.0,61.2 C49.9,62.0 46.2,62.9 43.6,63.7 C41.0,64.5 38.7,65.5 35.4,66.1 C32.1,66.6 27.5,67.4 24.0,67.0 C20.5,66.6 17.2,65.6 14.2,63.7 C11.2,61.8 8.2,58.8 6.0,55.5 C3.8,52.2 1.9,48.5 1.1,44.1 C0.3,39.8 0.7,34.0 1.1,29.4 C1.5,24.8 2.8,19.7 3.6,16.3 C4.4,12.9 5.0,10.9 6.0,9.0 C7.0,7.1 7.1,6.3 9.3,4.9 Z" fill="#b47072"/>
<path d="M9.3,4.9 C11.5,3.5 15.6,1.6 19.1,0.8 C22.7,-0.0 27.6,-0.4 30.6,0.0 C33.6,0.4 35.9,1.6 37.1,3.2 C38.3,4.8 38.3,7.6 37.9,9.8 C37.5,12.0 35.7,14.5 34.6,16.3 C33.5,18.1 31.0,19.4 31.4,20.4 C31.8,21.3 35.1,21.4 37.1,22.0 C39.1,22.6 42.9,22.9 43.6,23.7 C44.3,24.5 42.8,26.1 41.2,26.9 C39.6,27.7 35.7,27.4 33.8,28.6 C31.9,29.8 30.4,31.7 29.7,34.3 C29.0,36.9 29.3,40.8 29.7,44.1 C30.1,47.4 30.7,51.7 32.2,53.9 C33.7,56.1 35.7,56.4 38.7,57.2 C41.7,58.0 48.2,58.1 50.2,58.8 C52.2,59.5 52.1,60.4 51.0,61.2 C49.9,62.0 46.2,62.9 43.6,63.7 C41.0,64.5 38.7,65.5 35.4,66.1 C32.1,66.6 27.5,67.4 24.0,67.0 C20.5,66.6 17.2,65.6 14.2,63.7 C11.2,61.8 8.2,58.8 6.0,55.5 C3.8,52.2 1.9,48.5 1.1,44.1 C0.3,39.8 0.7,34.0 1.1,29.4 C1.5,24.8 2.8,19.7 3.6,16.3 C4.4,12.9 5.0,10.9 6.0,9.0 C7.0,7.1 7.1,6.3 9.3,4.9 Z" fill="url(#pupsh)"/>
<path d="M3,42 C4,52 9,59 17,63" fill="none" stroke="#b47072" stroke-width="3" opacity="0.35" filter="brightness(0.8)"/>
<path d="M24,63.5 C30,61.5 37,61 44,61.3" fill="none" stroke="#fff" stroke-width="1.3" opacity="0.85"/>
<path d="M16,12 C21,10 26,11 30,15" fill="none" stroke="#000" stroke-width="1.2" opacity="0.08"/>
</g>
<g transform="translate(375,547.4) scale(0.8362,0.9642)"><path d="M9.3,4.9 C11.5,3.5 15.6,1.6 19.1,0.8 C22.7,-0.0 27.6,-0.4 30.6,0.0 C33.6,0.4 35.9,1.6 37.1,3.2 C38.3,4.8 38.3,7.6 37.9,9.8 C37.5,12.0 35.7,14.5 34.6,16.3 C33.5,18.1 31.0,19.4 31.4,20.4 C31.8,21.3 35.1,21.4 37.1,22.0 C39.1,22.6 42.9,22.9 43.6,23.7 C44.3,24.5 42.8,26.1 41.2,26.9 C39.6,27.7 35.7,27.4 33.8,28.6 C31.9,29.8 30.4,31.7 29.7,34.3 C29.0,36.9 29.3,40.8 29.7,44.1 C30.1,47.4 30.7,51.7 32.2,53.9 C33.7,56.1 35.7,56.4 38.7,57.2 C41.7,58.0 48.2,58.1 50.2,58.8 C52.2,59.5 52.1,60.4 51.0,61.2 C49.9,62.0 46.2,62.9 43.6,63.7 C41.0,64.5 38.7,65.5 35.4,66.1 C32.1,66.6 27.5,67.4 24.0,67.0 C20.5,66.6 17.2,65.6 14.2,63.7 C11.2,61.8 8.2,58.8 6.0,55.5 C3.8,52.2 1.9,48.5 1.1,44.1 C0.3,39.8 0.7,34.0 1.1,29.4 C1.5,24.8 2.8,19.7 3.6,16.3 C4.4,12.9 5.0,10.9 6.0,9.0 C7.0,7.1 7.1,6.3 9.3,4.9 Z" fill="#ad6a70"/>
<path d="M9.3,4.9 C11.5,3.5 15.6,1.6 19.1,0.8 C22.7,-0.0 27.6,-0.4 30.6,0.0 C33.6,0.4 35.9,1.6 37.1,3.2 C38.3,4.8 38.3,7.6 37.9,9.8 C37.5,12.0 35.7,14.5 34.6,16.3 C33.5,18.1 31.0,19.4 31.4,20.4 C31.8,21.3 35.1,21.4 37.1,22.0 C39.1,22.6 42.9,22.9 43.6,23.7 C44.3,24.5 42.8,26.1 41.2,26.9 C39.6,27.7 35.7,27.4 33.8,28.6 C31.9,29.8 30.4,31.7 29.7,34.3 C29.0,36.9 29.3,40.8 29.7,44.1 C30.1,47.4 30.7,51.7 32.2,53.9 C33.7,56.1 35.7,56.4 38.7,57.2 C41.7,58.0 48.2,58.1 50.2,58.8 C52.2,59.5 52.1,60.4 51.0,61.2 C49.9,62.0 46.2,62.9 43.6,63.7 C41.0,64.5 38.7,65.5 35.4,66.1 C32.1,66.6 27.5,67.4 24.0,67.0 C20.5,66.6 17.2,65.6 14.2,63.7 C11.2,61.8 8.2,58.8 6.0,55.5 C3.8,52.2 1.9,48.5 1.1,44.1 C0.3,39.8 0.7,34.0 1.1,29.4 C1.5,24.8 2.8,19.7 3.6,16.3 C4.4,12.9 5.0,10.9 6.0,9.0 C7.0,7.1 7.1,6.3 9.3,4.9 Z" fill="url(#pupsh)"/>
<path d="M3,42 C4,52 9,59 17,63" fill="none" stroke="#ad6a70" stroke-width="3" opacity="0.35" filter="brightness(0.8)"/>
<path d="M24,63.5 C30,61.5 37,61 44,61.3" fill="none" stroke="#fff" stroke-width="1.3" opacity="0.85"/>
<path d="M16,12 C21,10 26,11 30,15" fill="none" stroke="#000" stroke-width="1.2" opacity="0.08"/>
</g>
<g transform="translate(438.3,547) scale(0.7904,0.9701)"><path d="M9.3,4.9 C11.5,3.5 15.6,1.6 19.1,0.8 C22.7,-0.0 27.6,-0.4 30.6,0.0 C33.6,0.4 35.9,1.6 37.1,3.2 C38.3,4.8 38.3,7.6 37.9,9.8 C37.5,12.0 35.7,14.5 34.6,16.3 C33.5,18.1 31.0,19.4 31.4,20.4 C31.8,21.3 35.1,21.4 37.1,22.0 C39.1,22.6 42.9,22.9 43.6,23.7 C44.3,24.5 42.8,26.1 41.2,26.9 C39.6,27.7 35.7,27.4 33.8,28.6 C31.9,29.8 30.4,31.7 29.7,34.3 C29.0,36.9 29.3,40.8 29.7,44.1 C30.1,47.4 30.7,51.7 32.2,53.9 C33.7,56.1 35.7,56.4 38.7,57.2 C41.7,58.0 48.2,58.1 50.2,58.8 C52.2,59.5 52.1,60.4 51.0,61.2 C49.9,62.0 46.2,62.9 43.6,63.7 C41.0,64.5 38.7,65.5 35.4,66.1 C32.1,66.6 27.5,67.4 24.0,67.0 C20.5,66.6 17.2,65.6 14.2,63.7 C11.2,61.8 8.2,58.8 6.0,55.5 C3.8,52.2 1.9,48.5 1.1,44.1 C0.3,39.8 0.7,34.0 1.1,29.4 C1.5,24.8 2.8,19.7 3.6,16.3 C4.4,12.9 5.0,10.9 6.0,9.0 C7.0,7.1 7.1,6.3 9.3,4.9 Z" fill="#b37276"/>
<path d="M9.3,4.9 C11.5,3.5 15.6,1.6 19.1,0.8 C22.7,-0.0 27.6,-0.4 30.6,0.0 C33.6,0.4 35.9,1.6 37.1,3.2 C38.3,4.8 38.3,7.6 37.9,9.8 C37.5,12.0 35.7,14.5 34.6,16.3 C33.5,18.1 31.0,19.4 31.4,20.4 C31.8,21.3 35.1,21.4 37.1,22.0 C39.1,22.6 42.9,22.9 43.6,23.7 C44.3,24.5 42.8,26.1 41.2,26.9 C39.6,27.7 35.7,27.4 33.8,28.6 C31.9,29.8 30.4,31.7 29.7,34.3 C29.0,36.9 29.3,40.8 29.7,44.1 C30.1,47.4 30.7,51.7 32.2,53.9 C33.7,56.1 35.7,56.4 38.7,57.2 C41.7,58.0 48.2,58.1 50.2,58.8 C52.2,59.5 52.1,60.4 51.0,61.2 C49.9,62.0 46.2,62.9 43.6,63.7 C41.0,64.5 38.7,65.5 35.4,66.1 C32.1,66.6 27.5,67.4 24.0,67.0 C20.5,66.6 17.2,65.6 14.2,63.7 C11.2,61.8 8.2,58.8 6.0,55.5 C3.8,52.2 1.9,48.5 1.1,44.1 C0.3,39.8 0.7,34.0 1.1,29.4 C1.5,24.8 2.8,19.7 3.6,16.3 C4.4,12.9 5.0,10.9 6.0,9.0 C7.0,7.1 7.1,6.3 9.3,4.9 Z" fill="url(#pupsh)"/>
<path d="M3,42 C4,52 9,59 17,63" fill="none" stroke="#b37276" stroke-width="3" opacity="0.35" filter="brightness(0.8)"/>
<path d="M24,63.5 C30,61.5 37,61 44,61.3" fill="none" stroke="#fff" stroke-width="1.3" opacity="0.85"/>
<path d="M16,12 C21,10 26,11 30,15" fill="none" stroke="#000" stroke-width="1.2" opacity="0.08"/>
</g>
<g transform="translate(506.9,545.3) scale(0.9094,0.9612)"><path d="M9.3,4.9 C11.5,3.5 15.6,1.6 19.1,0.8 C22.7,-0.0 27.6,-0.4 30.6,0.0 C33.6,0.4 35.9,1.6 37.1,3.2 C38.3,4.8 38.3,7.6 37.9,9.8 C37.5,12.0 35.7,14.5 34.6,16.3 C33.5,18.1 31.0,19.4 31.4,20.4 C31.8,21.3 35.1,21.4 37.1,22.0 C39.1,22.6 42.9,22.9 43.6,23.7 C44.3,24.5 42.8,26.1 41.2,26.9 C39.6,27.7 35.7,27.4 33.8,28.6 C31.9,29.8 30.4,31.7 29.7,34.3 C29.0,36.9 29.3,40.8 29.7,44.1 C30.1,47.4 30.7,51.7 32.2,53.9 C33.7,56.1 35.7,56.4 38.7,57.2 C41.7,58.0 48.2,58.1 50.2,58.8 C52.2,59.5 52.1,60.4 51.0,61.2 C49.9,62.0 46.2,62.9 43.6,63.7 C41.0,64.5 38.7,65.5 35.4,66.1 C32.1,66.6 27.5,67.4 24.0,67.0 C20.5,66.6 17.2,65.6 14.2,63.7 C11.2,61.8 8.2,58.8 6.0,55.5 C3.8,52.2 1.9,48.5 1.1,44.1 C0.3,39.8 0.7,34.0 1.1,29.4 C1.5,24.8 2.8,19.7 3.6,16.3 C4.4,12.9 5.0,10.9 6.0,9.0 C7.0,7.1 7.1,6.3 9.3,4.9 Z" fill="#b87072"/>
<path d="M9.3,4.9 C11.5,3.5 15.6,1.6 19.1,0.8 C22.7,-0.0 27.6,-0.4 30.6,0.0 C33.6,0.4 35.9,1.6 37.1,3.2 C38.3,4.8 38.3,7.6 37.9,9.8 C37.5,12.0 35.7,14.5 34.6,16.3 C33.5,18.1 31.0,19.4 31.4,20.4 C31.8,21.3 35.1,21.4 37.1,22.0 C39.1,22.6 42.9,22.9 43.6,23.7 C44.3,24.5 42.8,26.1 41.2,26.9 C39.6,27.7 35.7,27.4 33.8,28.6 C31.9,29.8 30.4,31.7 29.7,34.3 C29.0,36.9 29.3,40.8 29.7,44.1 C30.1,47.4 30.7,51.7 32.2,53.9 C33.7,56.1 35.7,56.4 38.7,57.2 C41.7,58.0 48.2,58.1 50.2,58.8 C52.2,59.5 52.1,60.4 51.0,61.2 C49.9,62.0 46.2,62.9 43.6,63.7 C41.0,64.5 38.7,65.5 35.4,66.1 C32.1,66.6 27.5,67.4 24.0,67.0 C20.5,66.6 17.2,65.6 14.2,63.7 C11.2,61.8 8.2,58.8 6.0,55.5 C3.8,52.2 1.9,48.5 1.1,44.1 C0.3,39.8 0.7,34.0 1.1,29.4 C1.5,24.8 2.8,19.7 3.6,16.3 C4.4,12.9 5.0,10.9 6.0,9.0 C7.0,7.1 7.1,6.3 9.3,4.9 Z" fill="url(#pupsh)"/>
<path d="M3,42 C4,52 9,59 17,63" fill="none" stroke="#b87072" stroke-width="3" opacity="0.35" filter="brightness(0.8)"/>
<path d="M24,63.5 C30,61.5 37,61 44,61.3" fill="none" stroke="#fff" stroke-width="1.3" opacity="0.85"/>
<path d="M16,12 C21,10 26,11 30,15" fill="none" stroke="#000" stroke-width="1.2" opacity="0.08"/>
</g>
<text x="218" y="599" font-size="32" fill="#fff" font-family='"Liberation Sans", "Noto Sans CJK SC", sans-serif'>2</text>
<text x="235.5" y="599" font-size="32" fill="#fff" font-family='"Liberation Sans", "Noto Sans CJK SC", sans-serif'>0</text>
<text x="253.3" y="599" font-size="32" fill="#fff" font-family='"Liberation Sans", "Noto Sans CJK SC", sans-serif'>2</text>
<text x="305" y="599" font-size="30" fill="#fff" font-family='"Liberation Sans", "Noto Sans CJK SC", sans-serif'>年</text>
<text x="372" y="599" font-size="30" fill="#fff" font-family='"Liberation Sans", "Noto Sans CJK SC", sans-serif'>氏</text>
<text x="396" y="599" font-size="30" fill="#fff" font-family='"Liberation Sans", "Noto Sans CJK SC", sans-serif'>试</text>
<text x="436" y="599" font-size="30" fill="#fff" font-family='"Liberation Sans", "Noto Sans CJK SC", sans-serif'>管</text>
<text x="460" y="599" font-size="30" fill="#fff" font-family='"Liberation Sans", "Noto Sans CJK SC", sans-serif'>医</text>
<text x="494" y="599" font-size="30" fill="#fff" font-family='"Liberation Sans", "Noto Sans CJK SC", sans-serif'>院</text>
<defs>
<radialGradient id="ut1" cx="0.52" cy="0.5" r="0.55"><stop offset="0" stop-color="#bc62d0"/><stop offset="0.55" stop-color="#c674d6"/><stop offset="0.8" stop-color="#d692de"/><stop offset="1" stop-color="#e0ace4"/></radialGradient>
<linearGradient id="ins1" x1="0" y1="0" x2="1" y2="0"><stop offset="0" stop-color="#b85ccc"/><stop offset="0.55" stop-color="#c268d2"/><stop offset="0.7" stop-color="#cc80d8"/><stop offset="1" stop-color="#dca6e4"/></linearGradient>
<linearGradient id="ins2" x1="0" y1="0" x2="1" y2="0"><stop offset="0" stop-color="#ba5ccc"/><stop offset="0.45" stop-color="#c878d4"/><stop offset="0.6" stop-color="#d89ade"/><stop offset="0.8" stop-color="#ca7ed4"/><stop offset="1" stop-color="#d08ad8"/></linearGradient>
<filter id="tex" x="0" y="0" width="100%" height="100%" color-interpolation-filters="sRGB">
<feTurbulence type="fractalNoise" baseFrequency="0.18" numOctaves="3" seed="4" result="n"/>
<feColorMatrix in="n" type="matrix" values="0 0 0 0 0.98  0 0 0 0 0.92  0 0 0 0 0.98  0 0 0 1.8 -1.05" result="lt"/>
<feColorMatrix in="n" type="matrix" values="0 0 0 0 0.42  0 0 0 0 0.1  0 0 0 0 0.55  -2.2 0 0 0 0.95" result="dk"/>
<feComposite in="lt" in2="SourceGraphic" operator="in" result="lt2"/>
<feComposite in="dk" in2="SourceGraphic" operator="in" result="dk2"/>
<feMerge><feMergeNode in="SourceGraphic"/><feMergeNode in="dk2"/><feMergeNode in="lt2"/></feMerge>
</filter>
</defs>
<text x="569.5" y="408" font-size="16" fill="#111" font-weight="bold" stroke="#111" stroke-width="0.35">E</text>
<polyline points="653,410.5 589.5,410.5 589.5,630.5 788.5,630.5 788.5,410.5 712.7,410.5" fill="none" stroke="#e2e2e2" stroke-width="1"/>
<text x="682.3" y="413.7" font-size="11.5" fill="#262626" text-anchor="middle" stroke="#262626" stroke-width="0.36">Uterus</text>
<text x="591.5" y="468.6" font-size="11.5" fill="#222" text-anchor="middle" transform="rotate(-90 591.5 468.6)" stroke="#222" stroke-width="0.36">Control</text>
<text x="591.5" y="569.8" font-size="11.5" fill="#222" text-anchor="middle" transform="rotate(-90 591.5 569.8)" stroke="#222" stroke-width="0.36">CervPlug</text>
<g filter="url(#tex)">
<path d="M613.9,426.3 C615.8,425.4 619.8,425.1 622.7,425.7 C625.6,426.3 629.0,428.2 631.5,430.0 C634.0,431.8 635.6,434.4 637.7,436.3 C639.8,438.2 641.5,439.9 644.0,441.4 C646.5,442.9 650.1,443.2 652.8,445.1 C655.5,447.0 658.3,450.0 660.4,452.7 C662.5,455.4 664.2,458.1 665.4,461.5 C666.5,464.9 667.3,468.8 667.3,472.8 C667.3,476.8 666.5,481.5 665.4,485.3 C664.2,489.1 662.5,492.5 660.4,495.4 C658.3,498.3 656.1,500.8 652.8,502.9 C649.4,505.0 644.5,507.1 640.3,508.0 C636.1,508.9 631.9,508.9 627.7,508.0 C623.5,507.1 618.9,505.0 615.1,502.9 C611.3,500.8 608.0,498.8 605.1,495.4 C602.2,492.0 599.2,487.0 597.5,482.8 C595.8,478.6 595.0,474.5 595.0,470.3 C595.0,466.1 596.2,461.5 597.5,457.7 C598.8,453.9 600.7,450.8 602.6,447.6 C604.5,444.5 607.3,441.5 608.8,438.8 C610.3,436.1 610.5,433.4 611.4,431.3 C612.2,429.2 612.0,427.2 613.9,426.3 Z" fill="#dfafe1"/>
<ellipse cx="632" cy="469" rx="29" ry="31" fill="url(#ut1)"/>
</g>
<path d="M627.7,445.0 C628.1,447.1 629.6,453.5 630.2,457.7 C630.8,461.9 630.9,466.5 631.5,470.3 C632.1,474.1 634.0,477.0 634.0,480.3 C634.0,483.6 631.7,488.3 631.5,490.4 C631.3,492.5 632.5,492.5 632.7,492.9" fill="none" stroke="#fcf6fc" stroke-width="2.8" stroke-linecap="round" stroke-linejoin="round"/>
<path d="M628.5,450.0 C627.4,450.0 624.2,449.6 622.0,450.0 C619.8,450.4 616.6,451.0 615.0,452.7 C613.4,454.4 613.0,458.9 612.6,460.2" fill="none" stroke="#fcf6fc" stroke-width="2.8" stroke-linecap="round" stroke-linejoin="round"/>
<path d="M630.5,460.0 C631.4,459.3 634.4,456.8 636.0,456.0 C637.6,455.2 639.2,454.5 640.3,455.2 C641.4,455.9 642.4,459.4 642.8,460.2" fill="none" stroke="#fcf6fc" stroke-width="2.8" stroke-linecap="round" stroke-linejoin="round"/>
<path d="M632.0,472.0 C633.3,472.0 637.2,472.3 640.0,472.0 C642.8,471.7 647.5,470.6 649.0,470.3" fill="none" stroke="#fcf6fc" stroke-width="2.8" stroke-linecap="round" stroke-linejoin="round"/>
<path d="M632.5,476.0 C631.2,476.2 626.6,476.5 625.0,477.0 C623.4,477.5 623.5,477.6 622.7,479.0 C621.9,480.4 619.4,483.4 620.2,485.3 C621.0,487.2 626.5,489.5 627.7,490.4" fill="none" stroke="#fcf6fc" stroke-width="2.8" stroke-linecap="round" stroke-linejoin="round"/>
<path d="M634.0,482.0 C635.0,482.6 639.0,484.1 640.3,485.3 C641.5,486.5 641.3,488.4 641.5,489.0" fill="none" stroke="#fcf6fc" stroke-width="2.8" stroke-linecap="round" stroke-linejoin="round"/>
<path d="M622.0,450.0 C621.7,449.3 620.3,446.7 620.0,446.0" fill="none" stroke="#fcf6fc" stroke-width="2.8" stroke-linecap="round" stroke-linejoin="round"/>
<path d="M640.3,455.2 C640.8,454.5 642.5,451.7 643.0,451.0" fill="none" stroke="#fcf6fc" stroke-width="2.8" stroke-linecap="round" stroke-linejoin="round"/>
<circle cx="612.4" cy="461" r="2.6" fill="#fcf6fc"/>
<rect x="646.5" y="447" width="27.4" height="31.4" fill="none" stroke="#8a8a8a" stroke-width="0.8"/>
<line x1="673.9" y1="447" x2="693.4" y2="428.5" stroke="#8a8a8a" stroke-width="0.8"/>
<line x1="673.9" y1="478.4" x2="693.4" y2="508.6" stroke="#8a8a8a" stroke-width="0.8"/>
<line x1="662.2" y1="506" x2="672.3" y2="506" stroke="#111" stroke-width="2"/>
<g filter="url(#tex)">
<path d="M693.8,429.4 L749,429.4 C766,432 780,448 783,466.5 L783,508.5 L693.8,508.5 Z" fill="url(#ins1)"/>
<path d="M745,429.4 C752,440 758,455 760,470 C762,486 760,500 758,508.5 L783,508.5 L783,466.5 C780,448 766,432 749,429.4 Z" fill="#dca4e0"/>
</g>
<path d="M755,432 L770,444" fill="none" stroke="#f1d9f2" stroke-width="1.4"/>
<path d="M758,444 L778,452" fill="none" stroke="#f1d9f2" stroke-width="1.4"/>
<path d="M760,456 L781,462" fill="none" stroke="#f1d9f2" stroke-width="1.4"/>
<path d="M761,468 L782,472" fill="none" stroke="#f1d9f2" stroke-width="1.4"/>
<path d="M761,480 L782,482" fill="none" stroke="#f1d9f2" stroke-width="1.4"/>
<path d="M760,492 L782,494" fill="none" stroke="#f1d9f2" stroke-width="1.4"/>
<path d="M758,503 L782,505" fill="none" stroke="#f1d9f2" stroke-width="1.4"/>
<path d="M693.8,429.4 L702,429.4 C700,434 698,438 693.8,440 Z" fill="#fbf3fb"/>
<path d="M703.8,448.9 C704.5,449.6 706.5,451.5 708.0,453.0 C709.5,454.5 710.6,456.2 712.6,457.7 C714.6,459.2 718.8,461.3 720.0,462.0" fill="none" stroke="#fcf4fc" stroke-width="3.6" stroke-linecap="round" stroke-linejoin="round"/>
<path d="M712.6,457.7 C711.2,458.2 706.5,459.5 704.0,461.0 C701.5,462.5 698.6,465.6 697.5,466.5" fill="none" stroke="#fcf4fc" stroke-width="3.6" stroke-linecap="round" stroke-linejoin="round"/>
<path d="M695.0,479.0 C695.7,480.2 697.7,483.7 699.0,486.0 C700.3,488.3 702.0,491.7 702.6,492.8" fill="none" stroke="#fcf4fc" stroke-width="3.6" stroke-linecap="round" stroke-linejoin="round"/>
<path d="M694.0,502.0 C695.4,501.7 698.7,501.5 702.6,500.4 C706.5,499.3 713.2,497.5 717.6,495.4 C722.0,493.3 726.3,489.7 729.0,487.8 C731.7,485.9 732.7,485.3 734.0,484.0 C735.3,482.7 736.5,480.7 737.0,480.0" fill="none" stroke="#fcf4fc" stroke-width="3.6" stroke-linecap="round" stroke-linejoin="round"/>
<path d="M729.0,487.8 C729.7,488.5 732.3,491.3 733.0,492.0" fill="none" stroke="#fcf4fc" stroke-width="3.6" stroke-linecap="round" stroke-linejoin="round"/>
<path d="M722.7,448.2 L717.1,445.4 L722.8,442.0 Z" fill="#111"/>
<path d="M733.3,445.1 L729.5,440.2 L736.0,439.5 Z" fill="#111"/>
<path d="M742.8,445.1 L741.0,439.1 L747.4,440.9 Z" fill="#111"/>
<path d="M747.2,455.8 L747.9,449.6 L753.1,453.7 Z" fill="#111"/>
<path d="M745.9,468.3 L750.5,464.2 L751.7,470.7 Z" fill="#111"/>
<path d="M722.0,474.6 L718.0,479.4 L716.0,473.1 Z" fill="#111"/>
<path d="M747.2,484.0 L753.1,486.1 L747.9,490.2 Z" fill="#111"/>
<path d="M752.8,488.4 L758.8,490.1 L753.9,494.5 Z" fill="#111"/>
<path d="M756.0,497.9 L761.8,500.3 L756.4,504.1 Z" fill="#111"/>
<path d="M739.6,504.1 L743.4,509.0 L736.9,509.7 Z" fill="#111"/>
<line x1="752.8" y1="504.8" x2="777.3" y2="504.8" stroke="#111" stroke-width="2"/>
<g filter="url(#tex)">
<path d="M608.8,540.0 C611.3,539.0 616.1,538.6 621.4,538.8 C626.6,539.0 635.1,540.0 640.3,541.3 C645.5,542.5 649.0,544.2 652.8,546.3 C656.6,548.4 660.2,550.8 662.9,553.9 C665.6,557.0 667.8,561.2 669.1,565.2 C670.5,569.2 670.8,573.5 671.0,577.7 C671.2,581.9 671.3,586.5 670.4,590.3 C669.5,594.1 667.7,597.7 665.4,600.4 C663.1,603.1 658.3,604.5 656.6,606.6 C654.9,608.7 656.6,611.2 655.3,612.9 C654.0,614.6 651.1,616.3 649.0,616.7 C646.9,617.1 644.2,616.5 642.8,615.4 C641.3,614.3 642.8,611.6 640.3,610.4 C637.8,609.1 631.9,609.1 627.7,607.9 C623.5,606.6 619.1,605.4 615.1,602.9 C611.1,600.4 606.7,596.6 603.8,592.8 C600.9,589.0 598.5,584.5 597.5,580.3 C596.5,576.1 596.9,571.9 597.5,567.7 C598.1,563.5 599.8,558.9 601.3,555.1 C602.8,551.3 605.0,547.6 606.3,545.1 C607.5,542.6 606.3,541.0 608.8,540.0 Z" fill="#dfafe1"/>
<ellipse cx="628" cy="576" rx="30" ry="29" fill="url(#ut1)"/>
</g>
<path d="M615.8,553.9 C616.9,553.7 620.7,552.4 622.7,552.6 C624.7,552.8 626.9,554.7 627.7,555.1" fill="none" stroke="#fcf6fc" stroke-width="3.0" stroke-linecap="round" stroke-linejoin="round"/>
<path d="M615.1,557.6 C614.0,558.9 610.5,562.9 608.8,565.2 C607.1,567.5 605.9,569.6 605.1,571.5 C604.3,573.4 604.0,575.7 603.8,576.5" fill="none" stroke="#fcf6fc" stroke-width="3.0" stroke-linecap="round" stroke-linejoin="round"/>
<path d="M605.1,577.7 C606.4,578.1 610.9,579.0 612.6,580.3 C614.3,581.6 615.1,583.6 615.1,585.3 C615.1,587.0 612.2,589.0 612.6,590.3 C613.0,591.5 616.8,592.4 617.6,592.8" fill="none" stroke="#fcf6fc" stroke-width="3.0" stroke-linecap="round" stroke-linejoin="round"/>
<path d="M617.6,562.7 C618.0,564.0 619.2,567.5 620.2,570.2 C621.2,572.9 622.5,576.3 623.9,579.0 C625.3,581.7 627.8,583.8 628.9,586.5 C630.0,589.2 630.4,593.0 630.2,595.3 C630.0,597.6 628.1,599.5 627.7,600.4" fill="none" stroke="#fcf6fc" stroke-width="3.0" stroke-linecap="round" stroke-linejoin="round"/>
<path d="M623.9,579.0 C625.2,578.6 629.2,577.5 631.5,576.5 C633.8,575.5 636.7,573.3 637.7,572.7" fill="none" stroke="#fcf6fc" stroke-width="3.0" stroke-linecap="round" stroke-linejoin="round"/>
<path d="M628.9,586.5 C630.0,586.3 633.3,584.7 635.2,585.3 C637.1,585.9 639.4,589.5 640.3,590.3" fill="none" stroke="#fcf6fc" stroke-width="3.0" stroke-linecap="round" stroke-linejoin="round"/>
<path d="M627.7,561.4 C628.3,561.8 630.9,563.5 631.5,563.9" fill="none" stroke="#fcf6fc" stroke-width="3.0" stroke-linecap="round" stroke-linejoin="round"/>
<path d="M644.0,567.7 C644.4,569.0 646.5,573.1 646.5,575.2 C646.5,577.3 644.4,579.4 644.0,580.3" fill="none" stroke="#fcf6fc" stroke-width="3.0" stroke-linecap="round" stroke-linejoin="round"/>
<path d="M615.1,557.6 C615.5,558.5 617.2,561.9 617.6,562.7" fill="none" stroke="#fcf6fc" stroke-width="3.0" stroke-linecap="round" stroke-linejoin="round"/>
<rect x="640.6" y="556.5" width="38.4" height="29.5" fill="none" stroke="#8a8a8a" stroke-width="0.8"/>
<line x1="679" y1="556.5" x2="693.4" y2="533.4" stroke="#8a8a8a" stroke-width="0.8"/>
<line x1="679" y1="586" x2="693.4" y2="614.3" stroke="#8a8a8a" stroke-width="0.8"/>
<line x1="662" y1="614.3" x2="672" y2="614.3" stroke="#111" stroke-width="2"/>
<g filter="url(#tex)">
<path d="M694.2,533.7 L768,533.7 C772,550 770,560 776,572 C782,584 780,596 784.5,614.7 L694.2,614.7 Z" fill="url(#ins2)"/>
<path d="M694.2,533.7 L722,533.7 C720,560 724,590 726,614.7 L694.2,614.7 Z" fill="#b456ca" opacity="0.55"/>
</g>
<path d="M715.0,560.0 C714.5,562.0 713.0,567.9 712.0,572.0 C711.0,576.1 710.5,581.5 708.8,584.5 C707.1,587.5 703.9,588.5 702.0,590.0 C700.1,591.5 698.8,591.6 697.5,593.3 C696.2,595.0 695.0,598.9 694.5,600.0" fill="none" stroke="#fcf6fc" stroke-width="3.6" stroke-linecap="round" stroke-linejoin="round"/>
<path d="M696.0,607.5 C697.2,607.2 700.4,606.1 703.0,606.0 C705.6,605.9 710.0,606.8 711.4,607.0" fill="none" stroke="#fcf6fc" stroke-width="3.6" stroke-linecap="round" stroke-linejoin="round"/>
<path d="M699.0,548.0 C699.3,548.8 700.7,552.2 701.0,553.0" fill="none" stroke="#fcf6fc" stroke-width="3.6" stroke-linecap="round" stroke-linejoin="round"/>
<path d="M744.0,565.7 C744.3,568.1 745.3,575.6 746.0,580.0 C746.7,584.4 747.3,588.1 748.0,592.0 C748.7,595.9 749.9,601.5 750.3,603.4" fill="none" stroke="#f4dcf4" stroke-width="3.2" stroke-linecap="round"/>
<path d="M760.4,540.6 C761.3,543.2 764.1,550.8 766.0,556.0 C767.9,561.2 770.7,566.7 772.0,572.0 C773.3,577.3 773.2,582.8 774.0,588.0 C774.8,593.2 776.2,600.8 776.7,603.4" fill="none" stroke="#f4dcf4" stroke-width="3.2" stroke-linecap="round"/>
<path d="M711.4,537.4 L706.5,533.6 L712.7,531.3 Z" fill="#111"/>
<path d="M717.6,548.7 L712.9,544.6 L719.2,542.7 Z" fill="#111"/>
<path d="M704.4,551.9 L698.5,549.8 L703.7,545.7 Z" fill="#111"/>
<path d="M723.3,568.2 L718.5,564.3 L724.7,562.1 Z" fill="#111"/>
<path d="M736.5,571.3 L737.2,565.1 L742.4,569.2 Z" fill="#111"/>
<path d="M715.8,578.3 L709.8,579.9 L711.7,573.6 Z" fill="#111"/>
<path d="M736.5,580.1 L740.9,575.7 L742.4,582.2 Z" fill="#111"/>
<path d="M712.6,592.1 L710.0,597.8 L706.4,592.2 Z" fill="#111"/>
<path d="M742.8,595.8 L748.9,597.0 L744.4,601.8 Z" fill="#111"/>
<path d="M715.8,599.6 L715.5,605.8 L710.1,602.1 Z" fill="#111"/>
<line x1="754" y1="607.4" x2="778" y2="607.4" stroke="#111" stroke-width="2"/>
<text x="14.5" y="662.3" font-size="16" fill="#111" font-weight="bold" stroke="#111" stroke-width="0.35">F</text>
<polyline points="72.4,670.3 158.3,670.3 158.3,805.6 72.4,805.6 72.4,670.3" fill="none" stroke="#bdbdbd" stroke-width="1"/>
<line x1="68.4" y1="805.6" x2="72.4" y2="805.6" stroke="#bdbdbd" stroke-width="1"/>
<text x="66" y="809.5" font-size="11" fill="#262626" text-anchor="end" stroke="#262626" stroke-width="0.36">0</text>
<line x1="68.4" y1="771.775" x2="72.4" y2="771.775" stroke="#bdbdbd" stroke-width="1"/>
<text x="66" y="775.675" font-size="11" fill="#262626" text-anchor="end" stroke="#262626" stroke-width="0.36">10</text>
<line x1="68.4" y1="737.95" x2="72.4" y2="737.95" stroke="#bdbdbd" stroke-width="1"/>
<text x="66" y="741.85" font-size="11" fill="#262626" text-anchor="end" stroke="#262626" stroke-width="0.36">20</text>
<line x1="68.4" y1="704.125" x2="72.4" y2="704.125" stroke="#bdbdbd" stroke-width="1"/>
<text x="66" y="708.025" font-size="11" fill="#262626" text-anchor="end" stroke="#262626" stroke-width="0.36">30</text>
<line x1="68.4" y1="670.3" x2="72.4" y2="670.3" stroke="#bdbdbd" stroke-width="1"/>
<text x="66" y="674.1999999999999" font-size="11" fill="#262626" text-anchor="end" stroke="#262626" stroke-width="0.36">40</text>
<line x1="69.9" y1="788.6875" x2="72.4" y2="788.6875" stroke="#bdbdbd" stroke-width="1"/>
<line x1="69.9" y1="754.8625" x2="72.4" y2="754.8625" stroke="#bdbdbd" stroke-width="1"/>
<line x1="69.9" y1="721.0375" x2="72.4" y2="721.0375" stroke="#bdbdbd" stroke-width="1"/>
<line x1="69.9" y1="687.2125" x2="72.4" y2="687.2125" stroke="#bdbdbd" stroke-width="1"/>
<line x1="97.3" y1="805.6" x2="97.3" y2="808.6" stroke="#bdbdbd" stroke-width="1"/>
<line x1="134.3" y1="805.6" x2="134.3" y2="808.6" stroke="#bdbdbd" stroke-width="1"/>
<rect x="84.8" y="739.5" width="24.9" height="66.10000000000002" fill="#a3b8cd"/>
<rect x="122" y="726" width="24.5" height="79.60000000000002" fill="#c57f70"/>
<line x1="97.3" y1="713.3" x2="97.3" y2="766" stroke="#666" stroke-width="0.9"/>
<line x1="93.8" y1="713.3" x2="100.8" y2="713.3" stroke="#666" stroke-width="0.9"/>
<line x1="93.8" y1="766" x2="100.8" y2="766" stroke="#666" stroke-width="0.9"/>
<line x1="134.3" y1="704.5" x2="134.3" y2="747.2" stroke="#666" stroke-width="0.9"/>
<line x1="130.8" y1="704.5" x2="137.8" y2="704.5" stroke="#666" stroke-width="0.9"/>
<line x1="130.8" y1="747.2" x2="137.8" y2="747.2" stroke="#666" stroke-width="0.9"/>
<text x="41" y="744.5" font-size="11.3" fill="#222" text-anchor="middle" transform="rotate(-90 41 744.5)" stroke="#222" stroke-width="0.36">Endometrial gland numbers (n)</text>
<text x="103.5" y="818" font-size="11.3" fill="#222" text-anchor="end" transform="rotate(-30 103.5 818)" stroke="#222" stroke-width="0.36">Control</text>
<text x="145" y="816" font-size="11.3" fill="#222" text-anchor="end" transform="rotate(-30 145 816)" stroke="#222" stroke-width="0.36">CervPlug</text>
<defs>
<radialGradient id="ov1" cx="0.5" cy="0.45" r="0.6"><stop offset="0" stop-color="#a070c2"/><stop offset="0.8" stop-color="#a97cc8"/><stop offset="1" stop-color="#c2a0d6"/></radialGradient>
<radialGradient id="cx1" cx="0.5" cy="0.5" r="0.6"><stop offset="0" stop-color="#c47ed0"/><stop offset="0.7" stop-color="#d094d8"/><stop offset="1" stop-color="#dcaee2"/></radialGradient>
<filter id="tex3" x="0" y="0" width="100%" height="100%" color-interpolation-filters="sRGB">
<feTurbulence type="fractalNoise" baseFrequency="0.45" numOctaves="2" seed="9" result="n"/>
<feColorMatrix in="n" type="matrix" values="0 0 0 0 0.85  0 0 0 0 0.7  0 0 0 0 0.92  0 0 0 2.4 -1.3" result="lt"/>
<feColorMatrix in="n" type="matrix" values="0 0 0 0 0.25  0 0 0 0 0.05  0 0 0 0 0.45  -2.6 0 0 0 1.25" result="dk"/>
<feComposite in="lt" in2="SourceGraphic" operator="in" result="lt2"/>
<feComposite in="dk" in2="SourceGraphic" operator="in" result="dk2"/>
<feMerge><feMergeNode in="SourceGraphic"/><feMergeNode in="dk2"/><feMergeNode in="lt2"/></feMerge>
</filter>
</defs>
<text x="183" y="659.6" font-size="16" fill="#111" font-weight="bold" stroke="#111" stroke-width="0.35">G</text>
<polyline points="257.8,665 196.4,665 196.4,821 586.7,821 586.7,665 501.5,665" fill="none" stroke="#e2e2e2" stroke-width="1"/>
<line x1="309" y1="665" x2="449.5" y2="665" stroke="#e2e2e2" stroke-width="1"/>
<text x="283.5" y="667.4" font-size="11.3" fill="#262626" text-anchor="middle" stroke="#262626" stroke-width="0.36">Ovary</text>
<text x="475.2" y="666" font-size="11.3" fill="#262626" text-anchor="middle" stroke="#262626" stroke-width="0.36">Cervix</text>
<text x="197.2" y="703" font-size="11.3" fill="#222" text-anchor="middle" transform="rotate(-90 197.2 703)" stroke="#222" stroke-width="0.36">Control</text>
<text x="197.2" y="788.8" font-size="11.3" fill="#222" text-anchor="middle" transform="rotate(-90 197.2 788.8)" stroke="#222" stroke-width="0.36">CervPlug</text>
<g filter="url(#tex)">
<path d="M206.8,687.2 C208.3,682.1 211.3,678.4 215.8,675.9 C220.3,673.4 228.1,672.5 233.9,672.0 C239.8,671.5 245.2,672.3 250.9,673.1 C256.6,673.9 262.8,675.0 267.9,677.0 C273.0,679.0 278.7,681.6 281.4,685.0 C284.1,688.4 284.3,693.1 284.3,697.4 C284.3,701.7 283.4,707.0 281.4,711.0 C279.4,715.0 275.4,718.8 272.4,721.2 C269.4,723.7 266.3,725.5 263.3,725.7 C260.3,725.9 256.8,723.6 254.3,722.3 C251.9,721.0 250.1,717.4 248.6,717.8 C247.1,718.2 247.6,722.7 245.2,724.6 C242.8,726.5 238.0,728.7 233.9,729.1 C229.8,729.5 224.2,728.3 220.4,726.8 C216.6,725.3 213.6,723.4 211.3,720.0 C209.0,716.6 207.6,712.0 206.8,706.5 C206.1,701.0 205.3,692.3 206.8,687.2 Z" fill="url(#ov1)"/>
<circle cx="214" cy="690" r="4.5" fill="#c2a2d8" stroke="#8d5db5" stroke-width="1.1"/>
<circle cx="214" cy="690" r="1.575" fill="#e4d2ee"/>
<circle cx="228" cy="684" r="3.5" fill="#c2a2d8" stroke="#8d5db5" stroke-width="1.1"/>
<circle cx="228" cy="684" r="1.2249999999999999" fill="#e4d2ee"/>
<circle cx="243" cy="682" r="3" fill="#c2a2d8" stroke="#8d5db5" stroke-width="1.1"/>
<circle cx="243" cy="682" r="1.0499999999999998" fill="#e4d2ee"/>
<circle cx="256" cy="686" r="3.5" fill="#c2a2d8" stroke="#8d5db5" stroke-width="1.1"/>
<circle cx="256" cy="686" r="1.2249999999999999" fill="#e4d2ee"/>
<circle cx="271" cy="690" r="4" fill="#c2a2d8" stroke="#8d5db5" stroke-width="1.1"/>
<circle cx="271" cy="690" r="1.4" fill="#e4d2ee"/>
<circle cx="279" cy="700" r="3.2" fill="#c2a2d8" stroke="#8d5db5" stroke-width="1.1"/>
<circle cx="279" cy="700" r="1.1199999999999999" fill="#e4d2ee"/>
<circle cx="222" cy="701" r="4" fill="#c2a2d8" stroke="#8d5db5" stroke-width="1.1"/>
<circle cx="222" cy="701" r="1.4" fill="#e4d2ee"/>
<circle cx="237" cy="697" r="4.5" fill="#c2a2d8" stroke="#8d5db5" stroke-width="1.1"/>
<circle cx="237" cy="697" r="1.575" fill="#e4d2ee"/>
<circle cx="252" cy="700" r="4" fill="#c2a2d8" stroke="#8d5db5" stroke-width="1.1"/>
<circle cx="252" cy="700" r="1.4" fill="#e4d2ee"/>
<circle cx="269" cy="703" r="4.5" fill="#c2a2d8" stroke="#8d5db5" stroke-width="1.1"/>
<circle cx="269" cy="703" r="1.575" fill="#e4d2ee"/>
<circle cx="214" cy="714" r="4.5" fill="#c2a2d8" stroke="#8d5db5" stroke-width="1.1"/>
<circle cx="214" cy="714" r="1.575" fill="#e4d2ee"/>
<circle cx="228" cy="713" r="5" fill="#c2a2d8" stroke="#8d5db5" stroke-width="1.1"/>
<circle cx="228" cy="713" r="1.75" fill="#e4d2ee"/>
<circle cx="240" cy="718" r="3.5" fill="#c2a2d8" stroke="#8d5db5" stroke-width="1.1"/>
<circle cx="240" cy="718" r="1.2249999999999999" fill="#e4d2ee"/>
<circle cx="259" cy="713" r="4" fill="#c2a2d8" stroke="#8d5db5" stroke-width="1.1"/>
<circle cx="259" cy="713" r="1.4" fill="#e4d2ee"/>
<circle cx="274" cy="712" r="3.5" fill="#c2a2d8" stroke="#8d5db5" stroke-width="1.1"/>
<circle cx="274" cy="712" r="1.2249999999999999" fill="#e4d2ee"/>
<circle cx="266" cy="720" r="2.5" fill="#c2a2d8" stroke="#8d5db5" stroke-width="1.1"/>
<circle cx="266" cy="720" r="0.875" fill="#e4d2ee"/>
</g>
<path d="M246,724 L250,714 L255,722 Z" fill="#f2eaf6" opacity="0.7"/>
<line x1="270.5" y1="729" x2="281.2" y2="729" stroke="#111" stroke-width="2"/>
<g filter="url(#tex3)">
<rect x="297.2" y="672.5" width="67.7" height="58.7" fill="#7242a2"/>
<circle cx="322.8" cy="710.9" r="18" fill="#5e2e90"/>
<circle cx="339.9" cy="684.2" r="7.5" fill="#5e2e90"/>
<path d="M297.2,724 C306,722 314,726 320,731.2 L297.2,731.2 Z" fill="#a884c4"/>
</g>
<circle cx="322.8" cy="710.9" r="11.7" fill="#f3eaf3"/>
<circle cx="322.8" cy="710.9" r="8.3" fill="#dc9ed6"/>
<circle cx="339.9" cy="684.2" r="5" fill="#cf9ccf"/>
<path d="M350,720 L354,700 L360,688 L362,696 L358,714 L356,728 Z" fill="#ecdcf0"/>
<path d="M204.3,788.4 C206,770 214,762 225.6,760.7 L264,759.6 C276,761 285,765 287.6,771.4" fill="none" stroke="#c9b4d8" stroke-width="1"/>
<g filter="url(#tex)">
<path d="M208.5,814.0 C204.7,810.2 206.8,801.0 207.0,795.0 C207.2,789.0 208.0,782.7 210.0,778.0 C212.0,773.3 215.0,769.5 219.2,767.0 C223.4,764.5 229.0,763.5 235.0,762.8 C241.0,762.0 248.8,762.0 255.0,762.5 C261.2,763.0 267.5,763.8 272.0,766.0 C276.5,768.2 279.8,771.9 282.0,776.0 C284.2,780.1 284.8,785.8 285.4,790.6 C286.0,795.4 285.8,800.8 285.8,805.0 C285.8,809.2 289.7,813.8 285.4,816.0 C281.1,818.2 269.2,817.7 260.0,818.0 C250.8,818.3 238.6,818.7 230.0,818.0 C221.4,817.3 212.3,817.8 208.5,814.0 Z" fill="#9465bb"/>
<circle cx="220" cy="778" r="3.5" fill="#b48ad0"/>
<circle cx="234" cy="773" r="3" fill="#b48ad0"/>
<circle cx="250" cy="776" r="3.5" fill="#b48ad0"/>
<circle cx="266" cy="774" r="3" fill="#b48ad0"/>
<circle cx="278" cy="784" r="3" fill="#b48ad0"/>
<circle cx="226" cy="792" r="4" fill="#b48ad0"/>
<circle cx="242" cy="790" r="3" fill="#b48ad0"/>
<circle cx="258" cy="791" r="3.5" fill="#b48ad0"/>
<circle cx="274" cy="796" r="3" fill="#b48ad0"/>
<circle cx="218" cy="806" r="3" fill="#b48ad0"/>
<circle cx="234" cy="804" r="2.5" fill="#b48ad0"/>
<path d="M208,814 C230,810 250,806 286,808 L286,818 L208,818 Z" fill="#d9b2dc"/>
</g>
<path d="M238,812 L245,796 L250,814 Z M255,810 L262,794 L266,812 Z" fill="#f2e8f4"/>
<line x1="273" y1="815.5" x2="284" y2="815.5" stroke="#111" stroke-width="2"/>
<g filter="url(#tex3)">
<rect x="297.2" y="759.6" width="67.7" height="59.8" fill="#7242a2"/>
<circle cx="312.1" cy="776.7" r="14" fill="#5e2e90"/>
<circle cx="346.3" cy="789.5" r="17" fill="#5e2e90"/>
</g>
<circle cx="312.1" cy="776.7" r="10.3" fill="#ead2ec"/>
<circle cx="312.1" cy="776.7" r="8.5" fill="#d7a9d9"/>
<circle cx="346.3" cy="789.5" r="12.3" fill="#f3eaf3"/>
<circle cx="346.3" cy="789.5" r="8.7" fill="#dc9ed6"/>
<path d="M334,816 L343,807 L352,812 L348,819.4 L336,819.4 Z" fill="#efe4f2"/>
<g filter="url(#tex)">
<path d="M427.7,672.5 C429.3,671.6 433.1,670.9 435.2,671.4 C437.3,671.9 439.4,674.1 440.5,675.7 C441.6,677.3 439.8,680.5 441.6,681.0 C443.4,681.5 448.2,678.5 451.2,678.9 C454.2,679.3 457.4,681.1 459.7,683.2 C462.0,685.3 464.0,688.5 465.1,691.7 C466.2,694.9 466.4,698.9 466.2,702.4 C466.0,705.9 465.1,709.8 464.0,713.0 C462.9,716.2 461.8,719.6 459.7,721.6 C457.6,723.6 453.0,723.2 451.2,724.8 C449.4,726.4 450.5,729.6 449.1,731.2 C447.7,732.8 445.6,734.0 442.7,734.4 C439.8,734.8 436.3,733.8 432.0,733.3 C427.7,732.8 421.6,731.7 417.0,731.2 C412.4,730.7 407.8,730.5 404.2,730.1 C400.6,729.8 397.8,730.5 395.7,729.1 C393.6,727.7 392.3,724.8 391.4,721.6 C390.5,718.4 390.1,713.5 390.3,709.8 C390.5,706.1 391.2,702.2 392.5,699.2 C393.8,696.2 395.5,694.0 397.8,691.7 C400.1,689.4 403.5,686.9 406.4,685.3 C409.2,683.7 412.2,682.6 414.9,682.1 C417.6,681.6 420.6,683.0 422.4,682.1 C424.2,681.2 424.7,678.3 425.6,676.7 C426.5,675.1 426.1,673.4 427.7,672.5 Z" fill="#dca8e0"/>
<ellipse cx="428" cy="707" rx="30" ry="24" fill="#c47ad0"/>
<ellipse cx="434" cy="679" rx="6" ry="6.5" fill="#cf8cd6"/>
<path d="M451,681 C462,688 466,704 462,718 C460,724 454,728 448,730" fill="none" stroke="#e6b6e8" stroke-width="2.5"/>
<path d="M414,697 L417,700 L416,712 L419,717 L405,717 L412,709 Z" fill="#a856bc" stroke="#a856bc" stroke-width="3.5" stroke-linejoin="round"/>
<path d="M429.5,698 L432.5,698 L432,712 L430,712 Z M426,697 L436,697 L436,699 L426,699 Z" fill="#a856bc" stroke="#a856bc" stroke-width="3.5" stroke-linejoin="round"/>
<path d="M446,700 L448.5,700 L448,721 L441,722 L441,720 L446,719 Z" fill="#a856bc" stroke="#a856bc" stroke-width="3.5" stroke-linejoin="round"/>
</g>
<path d="M414,697 L417,700 L416,712 L419,717 L405,717 L412,709 Z" fill="#f8f0f8"/>
<path d="M429.5,698 L432.5,698 L432,712 L430,712 Z M426,697 L436,697 L436,699 L426,699 Z" fill="#f8f0f8"/>
<path d="M446,700 L448.5,700 L448,721 L441,722 L441,720 L446,719 Z" fill="#f8f0f8"/>
<line x1="449.1" y1="726.7" x2="465.1" y2="726.7" stroke="#111" stroke-width="2"/>
<g filter="url(#tex)">
<rect x="473.8" y="675.3" width="109.5" height="56.1" fill="#d494d8"/>
<path d="M476,718 C480,700 490,690 500,690 C512,690 516,704 527,709 C536,704 540,690 552,688 C566,686 576,700 581,716" fill="none" stroke="#a850ba" stroke-width="14" stroke-linejoin="round"/>
<path d="M478,728 C492,722 506,726 516,731.4" fill="none" stroke="#a850ba" stroke-width="9"/>
<path d="M538,731.4 C548,722 562,720 583,726" fill="none" stroke="#a850ba" stroke-width="9"/>
</g>
<path d="M486,706 C498,700 510,704 518,712 C522,718 524,726 525,731.4 L533,731.4 C534,722 540,714 548,708 C556,704 564,708 570,714 C566,704 556,698 546,702 C538,706 532,712 529,716 C522,706 510,698 498,699 C492,700 488,703 486,706 Z" fill="#fbf6fb"/>
<line x1="566.6" y1="725.5" x2="578.1" y2="725.5" stroke="#111" stroke-width="2"/>
<g filter="url(#tex)">
<path d="M397.0,775.0 C398.6,770.0 401.5,765.2 405.0,762.0 C408.5,758.8 413.5,757.5 418.0,756.0 C422.5,754.5 427.0,753.2 432.0,753.2 C437.0,753.2 443.3,754.0 448.0,756.0 C452.7,758.0 457.2,761.0 460.0,765.0 C462.8,769.0 464.0,774.5 465.0,780.0 C466.0,785.5 466.6,792.7 466.1,798.0 C465.6,803.3 465.0,808.5 462.0,812.0 C459.0,815.5 453.3,817.7 448.0,818.8 C442.7,819.9 436.3,819.0 430.0,818.5 C423.7,818.0 415.3,817.8 410.0,816.0 C404.7,814.2 400.4,812.0 398.0,808.0 C395.6,804.0 395.5,797.5 395.3,792.0 C395.1,786.5 395.4,780.0 397.0,775.0 Z" fill="url(#cx1)"/>
<path d="M401,776 L412,774 L418,780 L416,792 L421,803 L406,803 L400.5,795 Z" fill="#b066c2" stroke="#b066c2" stroke-width="3.5" stroke-linejoin="round"/>
<path d="M422,774 L433,774 L430,790 L426,792 Z" fill="#b066c2" stroke="#b066c2" stroke-width="3.5" stroke-linejoin="round"/>
<path d="M440,776 L448,774 L454.5,790 L453,805 L443,800 L446,790 Z" fill="#b066c2" stroke="#b066c2" stroke-width="3.5" stroke-linejoin="round"/>
</g>
<path d="M401,776 L412,774 L418,780 L416,792 L421,803 L406,803 L400.5,795 Z" fill="#f8f0f8"/>
<path d="M422,774 L433,774 L430,790 L426,792 Z" fill="#f8f0f8"/>
<path d="M440,776 L448,774 L454.5,790 L453,805 L443,800 L446,790 Z" fill="#f8f0f8"/>
<line x1="449" y1="812" x2="466" y2="812" stroke="#111" stroke-width="2"/>
<g filter="url(#tex)">
<rect x="473.8" y="762.2" width="109.5" height="56.6" fill="#d090d4"/>
<path d="M478,818.8 C478,788 500,770 528,768 C556,768 576,788 578,818.8 Z" fill="#e2b4e2"/>
<path d="M484,818.8 C484,794 502,778 528,776 C552,776 570,794 572,818.8 Z" fill="#a654b8"/>
</g>
<path d="M488,804 C498,798 508,798 514,792 L518,780 L522,794 L530,796 L540,786 L546,794 L556,796 C548,800 540,802 534,806 C530,810 528,816 528,818.8 L522,818.8 C520,810 512,806 500,806 Z" fill="#fbf6fb"/>
<line x1="566.6" y1="811.5" x2="578.1" y2="811.5" stroke="#111" stroke-width="2"/>
<defs>
<radialGradient id="hb1" cx="0.5" cy="0.5" r="0.5"><stop offset="0" stop-color="#10208e"/><stop offset="0.7" stop-color="#0e1a84"/><stop offset="0.93" stop-color="#0a1464"/><stop offset="1" stop-color="#0e2a4a"/></radialGradient>
<radialGradient id="hb2" cx="0.5" cy="0.5" r="0.5"><stop offset="0" stop-color="#0c1478"/><stop offset="0.85" stop-color="#0a0f58"/><stop offset="1" stop-color="#0e2a44"/></radialGradient>
<radialGradient id="hb3" cx="0.5" cy="0.5" r="0.5"><stop offset="0" stop-color="#1424b0"/><stop offset="0.7" stop-color="#1220a0"/><stop offset="1" stop-color="#0c1470" stop-opacity="0"/></radialGradient>
<filter id="texb" x="0" y="0" width="100%" height="100%" color-interpolation-filters="sRGB">
<feTurbulence type="fractalNoise" baseFrequency="0.5" numOctaves="2" seed="11" result="n"/>
<feColorMatrix in="n" type="matrix" values="0 0 0 0 0.15  0 0 0 0 0.25  0 0 0 0 1  0 0 0 2.2 -1.2" result="lt"/>
<feColorMatrix in="n" type="matrix" values="0 0 0 0 0.01  0 0 0 0 0.01  0 0 0 0 0.15  -2.2 0 0 0 1.0" result="dk"/>
<feComposite in="lt" in2="SourceGraphic" operator="in" result="lt2"/>
<feComposite in="dk" in2="SourceGraphic" operator="in" result="dk2"/>
<feMerge><feMergeNode in="SourceGraphic"/><feMergeNode in="dk2"/><feMergeNode in="lt2"/></feMerge>
</filter>
</defs>
<text x="603.8" y="667.8" font-size="16" fill="#111" font-weight="bold" stroke="#111" stroke-width="0.35">H</text>
<text x="631.4" y="666.2" font-size="11.3" fill="#4a72dc" stroke="#4a72dc" stroke-width="0.36">DAPI</text>
<text x="658.6" y="666.2" font-size="11.3" fill="#333" stroke="#333" stroke-width="0.36">/</text>
<text x="661.8" y="666.2" font-size="11.3" fill="#2ab27a" stroke="#2ab27a" stroke-width="0.36">TUNEL</text>
<text x="623" y="704.5" font-size="11.3" fill="#222" text-anchor="middle" transform="rotate(-90 623 704.5)" stroke="#222" stroke-width="0.36">Control</text>
<text x="623" y="777" font-size="11.3" fill="#222" text-anchor="middle" transform="rotate(-90 623 777)" stroke="#222" stroke-width="0.36">CervPlug</text>
<rect x="632.1" y="669.5" width="72.8" height="70.79999999999995" fill="#020208"/>
<rect x="709.4" y="669.5" width="73.4" height="70.79999999999995" fill="#020208"/>
<rect x="632.1" y="745.4" width="72.8" height="73.60000000000002" fill="#020208"/>
<rect x="709.4" y="745.4" width="73.4" height="73.60000000000002" fill="#020208"/>
<g filter="url(#texb)"><ellipse cx="668.7" cy="704.7" rx="34.5" ry="33" fill="url(#hb1)" stroke="#1b4e5a" stroke-width="1.2"/>
</g><path d="M646,704 L652,700 L658,694 L664,697 L670,691 L676,694" fill="none" stroke="#04040e" stroke-width="2.8" stroke-linejoin="round" stroke-linecap="round"/>
<path d="M652,700 L656,708 L664,712 L672,706 L680,710 L686,707" fill="none" stroke="#04040e" stroke-width="2.8" stroke-linejoin="round" stroke-linecap="round"/>
<path d="M664,697 L666,704" fill="none" stroke="#04040e" stroke-width="2.8" stroke-linejoin="round" stroke-linecap="round"/>
<path d="M658,694 L657,686 L662,683" fill="none" stroke="#04040e" stroke-width="2.8" stroke-linejoin="round" stroke-linecap="round"/>
<path d="M672,706 L674,698" fill="none" stroke="#04040e" stroke-width="2.8" stroke-linejoin="round" stroke-linecap="round"/>
<path d="M656,708 L652,716 L658,722" fill="none" stroke="#04040e" stroke-width="2.8" stroke-linejoin="round" stroke-linecap="round"/>
<path d="M680,710 L682,718" fill="none" stroke="#04040e" stroke-width="2.8" stroke-linejoin="round" stroke-linecap="round"/>
<rect x="678.9" y="695.5" width="17.9" height="18.3" fill="none" stroke="#c8c8c8" stroke-width="0.7"/>
<line x1="686" y1="735.2" x2="700.2" y2="735.2" stroke="#f4f4f4" stroke-width="2"/>
<g filter="url(#texb)"><rect x="709.4" y="669.5" width="73.4" height="70.8" fill="#1022a4"/>
</g><path d="M709.4,694 C718,690 726,694 730,704 C734,716 732,730 726,740.3 L709.4,740.3 Z" fill="#03030a"/>
<path d="M709.4,712 C714,710 720,716 720,724 C720,732 716,738 709.4,740.3 Z" fill="#142cb0"/>
<path d="M709.4,669.5 L724,669.5 C722,678 718,688 709.4,692 Z" fill="#142aac"/>
<circle cx="748.9" cy="681.7" r="0.7" fill="#40d8a8"/>
<circle cx="763.9" cy="676.6" r="0.7" fill="#40d8a8"/>
<circle cx="758.7" cy="695.4" r="0.7" fill="#40d8a8"/>
<circle cx="736.7" cy="704.5" r="0.7" fill="#40d8a8"/>
<circle cx="735.7" cy="699.8" r="0.7" fill="#40d8a8"/>
<circle cx="737.2" cy="677.8" r="0.7" fill="#40d8a8"/>
<circle cx="753.5" cy="724.9" r="0.7" fill="#40d8a8"/>
<circle cx="739.7" cy="686.3" r="0.7" fill="#40d8a8"/>
<circle cx="762.9" cy="732.7" r="0.7" fill="#40d8a8"/>
<circle cx="760.5" cy="697.4" r="0.7" fill="#40d8a8"/>
<circle cx="778.9" cy="675.0" r="0.7" fill="#40d8a8"/>
<circle cx="773.5" cy="690.5" r="0.7" fill="#40d8a8"/>
<circle cx="740.6" cy="679.5" r="0.7" fill="#40d8a8"/>
<circle cx="748.2" cy="724.2" r="0.7" fill="#40d8a8"/>
<circle cx="742.3" cy="709.2" r="0.7" fill="#40d8a8"/>
<circle cx="763.4" cy="695.8" r="0.7" fill="#40d8a8"/>
<circle cx="759.2" cy="676.0" r="0.7" fill="#40d8a8"/>
<circle cx="736.7" cy="685.2" r="0.7" fill="#40d8a8"/>
<circle cx="765.3" cy="699.4" r="0.7" fill="#40d8a8"/>
<circle cx="748.5" cy="709.5" r="0.7" fill="#40d8a8"/>
<circle cx="754.8" cy="691.2" r="0.7" fill="#40d8a8"/>
<circle cx="770.5" cy="716.7" r="0.7" fill="#40d8a8"/>
<circle cx="745.2" cy="708.8" r="0.7" fill="#40d8a8"/>
<circle cx="758.2" cy="728.0" r="0.7" fill="#40d8a8"/>
<circle cx="767.6" cy="690.4" r="0.7" fill="#40d8a8"/>
<circle cx="779.1" cy="679.6" r="0.7" fill="#40d8a8"/>
<circle cx="753.2" cy="720.5" r="0.7" fill="#40d8a8"/>
<circle cx="741.0" cy="703.3" r="0.7" fill="#40d8a8"/>
<circle cx="735.8" cy="714.8" r="0.7" fill="#40d8a8"/>
<circle cx="769.2" cy="708.7" r="0.7" fill="#40d8a8"/>
<line x1="765.4" y1="735.2" x2="778.6" y2="735.2" stroke="#f4f4f4" stroke-width="2"/>
<g filter="url(#texb)"><ellipse cx="669" cy="782" rx="36" ry="35" fill="url(#hb2)" stroke="#16384a" stroke-width="1"/>
<ellipse cx="662" cy="786" rx="24" ry="22" fill="url(#hb3)"/>
</g><circle cx="652" cy="772" r="2.5" fill="#03030c"/>
<circle cx="660" cy="770" r="2.2" fill="#03030c"/>
<circle cx="668" cy="776" r="2.6" fill="#03030c"/>
<circle cx="676" cy="778" r="2" fill="#03030c"/>
<circle cx="656" cy="786" r="2.4" fill="#03030c"/>
<circle cx="664" cy="790" r="2" fill="#03030c"/>
<circle cx="672" cy="792" r="2.6" fill="#03030c"/>
<circle cx="680" cy="788" r="2.2" fill="#03030c"/>
<circle cx="650" cy="796" r="2" fill="#03030c"/>
<circle cx="662" cy="800" r="2.4" fill="#03030c"/>
<circle cx="674" cy="802" r="2.2" fill="#03030c"/>
<circle cx="684" cy="796" r="2" fill="#03030c"/>
<rect x="653.4" y="782.7" width="16.9" height="17.3" fill="none" stroke="#c8c8c8" stroke-width="0.7"/>
<line x1="684" y1="814.2" x2="704.3" y2="814.2" stroke="#f4f4f4" stroke-width="2"/>
<g filter="url(#texb)"><path d="M712,760 C716,770 722,776 720,790 C718,802 714,810 716,819" fill="none" stroke="#1228b4" stroke-width="7.5" stroke-linecap="round" stroke-linejoin="round"/>
<path d="M728,745.4 C730,756 738,760 744,758 C750,756 754,766 750,776 C746,788 738,792 736,804 C734,812 738,818 742,819" fill="none" stroke="#1228b4" stroke-width="7.5" stroke-linecap="round" stroke-linejoin="round"/>
<path d="M756,745.4 C760,752 768,756 772,764 C776,772 770,780 766,788 C762,798 770,806 778,808" fill="none" stroke="#1228b4" stroke-width="7.5" stroke-linecap="round" stroke-linejoin="round"/>
<path d="M709.4,776 C718,778 726,784 728,796" fill="none" stroke="#1228b4" stroke-width="7.5" stroke-linecap="round" stroke-linejoin="round"/>
<path d="M740,770 C736,778 742,784 748,786" fill="none" stroke="#1228b4" stroke-width="7.5" stroke-linecap="round" stroke-linejoin="round"/>
<path d="M762,790 C770,794 778,790 782.8,786" fill="none" stroke="#1228b4" stroke-width="7.5" stroke-linecap="round" stroke-linejoin="round"/>
<path d="M724,806 C730,812 736,812 740,808" fill="none" stroke="#1228b4" stroke-width="7.5" stroke-linecap="round" stroke-linejoin="round"/>
<path d="M770,748 C776,752 780,750 782.8,748" fill="none" stroke="#1228b4" stroke-width="7.5" stroke-linecap="round" stroke-linejoin="round"/>
<path d="M709.4,752 C714,754 718,758 716,764" fill="none" stroke="#1228b4" stroke-width="7.5" stroke-linecap="round" stroke-linejoin="round"/>
<path d="M748,792 C752,800 758,802 764,798" fill="none" stroke="#1228b4" stroke-width="7.5" stroke-linecap="round" stroke-linejoin="round"/>
<path d="M722,768 C728,774 726,782 731,786" fill="none" stroke="#1228b4" stroke-width="7.5" stroke-linecap="round" stroke-linejoin="round"/>
<path d="M754,812 C760,816 770,814 782.8,818" fill="none" stroke="#1228b4" stroke-width="7.5" stroke-linecap="round" stroke-linejoin="round"/>
<path d="M776,776 C780,782 778,792 782.8,798" fill="none" stroke="#1228b4" stroke-width="7.5" stroke-linecap="round" stroke-linejoin="round"/>
</g><line x1="765.4" y1="814.5" x2="778.6" y2="814.5" stroke="#f4f4f4" stroke-width="2"/>
<text x="16.5" y="861.5" font-size="16" fill="#111" font-weight="bold" stroke="#111" stroke-width="0.35">I</text>
<polyline points="74.8,865.3 232.7,865.3 232.7,1026.7 74.8,1026.7 74.8,865.3" fill="none" stroke="#c2c2c2" stroke-width="1"/>
<line x1="70.8" y1="1026.7" x2="74.8" y2="1026.7" stroke="#c2c2c2" stroke-width="1"/>
<text x="67.2" y="1030.6000000000001" font-size="11" fill="#262626" text-anchor="end" stroke="#262626" stroke-width="0.4">0.0</text>
<line x1="70.8" y1="986.35" x2="74.8" y2="986.35" stroke="#c2c2c2" stroke-width="1"/>
<text x="67.2" y="990.25" font-size="11" fill="#262626" text-anchor="end" stroke="#262626" stroke-width="0.4">0.5</text>
<line x1="70.8" y1="946.0" x2="74.8" y2="946.0" stroke="#c2c2c2" stroke-width="1"/>
<text x="67.2" y="949.9" font-size="11" fill="#262626" text-anchor="end" stroke="#262626" stroke-width="0.4">1.0</text>
<line x1="70.8" y1="905.65" x2="74.8" y2="905.65" stroke="#c2c2c2" stroke-width="1"/>
<text x="67.2" y="909.55" font-size="11" fill="#262626" text-anchor="end" stroke="#262626" stroke-width="0.4">1.5</text>
<line x1="70.8" y1="865.3" x2="74.8" y2="865.3" stroke="#c2c2c2" stroke-width="1"/>
<text x="67.2" y="869.1999999999999" font-size="11" fill="#262626" text-anchor="end" stroke="#262626" stroke-width="0.4">2.0</text>
<line x1="72.3" y1="1006.5250000000001" x2="74.8" y2="1006.5250000000001" stroke="#c2c2c2" stroke-width="1"/>
<line x1="72.3" y1="966.175" x2="74.8" y2="966.175" stroke="#c2c2c2" stroke-width="1"/>
<line x1="72.3" y1="925.825" x2="74.8" y2="925.825" stroke="#c2c2c2" stroke-width="1"/>
<line x1="72.3" y1="885.4749999999999" x2="74.8" y2="885.4749999999999" stroke="#c2c2c2" stroke-width="1"/>
<line x1="101.25" y1="1026.7" x2="101.25" y2="1030.7" stroke="#c2c2c2" stroke-width="1"/>
<line x1="153.8" y1="1026.7" x2="153.8" y2="1030.7" stroke="#c2c2c2" stroke-width="1"/>
<line x1="206.5" y1="1026.7" x2="206.5" y2="1030.7" stroke="#c2c2c2" stroke-width="1"/>
<rect x="83.8" y="973.438" width="16.900000000000006" height="53.26200000000006" fill="#a7bcd1"/>
<line x1="92.25" y1="979.087" x2="92.25" y2="966.982" stroke="#7c8494" stroke-width="0.9"/>
<line x1="89.75" y1="966.982" x2="94.75" y2="966.982" stroke="#7c8494" stroke-width="0.9"/>
<line x1="89.75" y1="979.087" x2="94.75" y2="979.087" stroke="#7c8494" stroke-width="0.9"/>
<circle cx="92.25" cy="965.368" r="1.9" fill="#8494aa" stroke="#76849a" stroke-width="0.9"/>
<circle cx="92.25" cy="970.21" r="1.9" fill="none" stroke="#76849a" stroke-width="0.9"/>
<circle cx="92.25" cy="979.894" r="1.9" fill="none" stroke="#76849a" stroke-width="0.9"/>
<rect x="101.8" y="941.965" width="16.200000000000003" height="84.73500000000001" fill="#c97c6c"/>
<line x1="109.9" y1="971.8240000000001" x2="109.9" y2="908.8779999999999" stroke="#8e5048" stroke-width="0.9"/>
<line x1="107.4" y1="908.8779999999999" x2="112.4" y2="908.8779999999999" stroke="#8e5048" stroke-width="0.9"/>
<line x1="107.4" y1="971.8240000000001" x2="112.4" y2="971.8240000000001" stroke="#8e5048" stroke-width="0.9"/>
<circle cx="109.9" cy="907.264" r="1.9" fill="#a4584f" stroke="#94504a" stroke-width="0.9"/>
<circle cx="109.9" cy="950.035" r="1.9" fill="none" stroke="#94504a" stroke-width="0.9"/>
<circle cx="109.9" cy="968.596" r="1.9" fill="none" stroke="#94504a" stroke-width="0.9"/>
<rect x="135.7" y="945.193" width="17.600000000000023" height="81.50700000000006" fill="#a7bcd1"/>
<line x1="144.5" y1="957.298" x2="144.5" y2="933.088" stroke="#7c8494" stroke-width="0.9"/>
<line x1="142.0" y1="933.088" x2="147.0" y2="933.088" stroke="#7c8494" stroke-width="0.9"/>
<line x1="142.0" y1="957.298" x2="147.0" y2="957.298" stroke="#7c8494" stroke-width="0.9"/>
<circle cx="144.5" cy="933.895" r="1.9" fill="#8494aa" stroke="#76849a" stroke-width="0.9"/>
<circle cx="144.5" cy="946.807" r="1.9" fill="none" stroke="#76849a" stroke-width="0.9"/>
<circle cx="144.5" cy="954.877" r="1.9" fill="none" stroke="#76849a" stroke-width="0.9"/>
<rect x="154.3" y="918.562" width="17.0" height="108.13800000000003" fill="#c97c6c"/>
<line x1="162.8" y1="922.597" x2="162.8" y2="914.527" stroke="#8e5048" stroke-width="0.9"/>
<line x1="160.3" y1="914.527" x2="165.3" y2="914.527" stroke="#8e5048" stroke-width="0.9"/>
<line x1="160.3" y1="922.597" x2="165.3" y2="922.597" stroke="#8e5048" stroke-width="0.9"/>
<circle cx="162.8" cy="912.913" r="1.9" fill="#a4584f" stroke="#94504a" stroke-width="0.9"/>
<circle cx="157.8" cy="920.1759999999999" r="1.9" fill="none" stroke="#94504a" stroke-width="0.9"/>
<circle cx="167.8" cy="920.1759999999999" r="1.9" fill="none" stroke="#94504a" stroke-width="0.9"/>
<rect x="189" y="997.648" width="17" height="29.05200000000002" fill="#a7bcd1"/>
<circle cx="192.5" cy="997.648" r="1.9" fill="#8494aa" stroke="#76849a" stroke-width="0.9"/>
<circle cx="197.5" cy="996.841" r="1.9" fill="none" stroke="#76849a" stroke-width="0.9"/>
<circle cx="202.5" cy="997.648" r="1.9" fill="none" stroke="#76849a" stroke-width="0.9"/>
<rect x="207" y="946.0" width="16.900000000000006" height="80.70000000000005" fill="#c97c6c"/>
<line x1="215.45" y1="951.649" x2="215.45" y2="939.544" stroke="#8e5048" stroke-width="0.9"/>
<line x1="212.95" y1="939.544" x2="217.95" y2="939.544" stroke="#8e5048" stroke-width="0.9"/>
<line x1="212.95" y1="951.649" x2="217.95" y2="951.649" stroke="#8e5048" stroke-width="0.9"/>
<circle cx="215.45" cy="937.93" r="1.9" fill="#a4584f" stroke="#94504a" stroke-width="0.9"/>
<circle cx="210.45" cy="947.614" r="1.9" fill="none" stroke="#94504a" stroke-width="0.9"/>
<circle cx="220.45" cy="947.614" r="1.9" fill="none" stroke="#94504a" stroke-width="0.9"/>
<text x="107" y="1043.5" font-size="11.3" fill="#222" text-anchor="end" transform="rotate(-30 107 1043.5)" stroke="#222" stroke-width="0.36">OCT4</text>
<text x="159" y="1043.5" font-size="11.3" fill="#222" text-anchor="end" transform="rotate(-30 159 1043.5)" stroke="#222" stroke-width="0.36">GATA4</text>
<text x="215" y="1042.5" font-size="11.3" fill="#222" text-anchor="end" transform="rotate(-30 215 1042.5)" stroke="#222" stroke-width="0.36">HIF-1α</text>
<text x="41.3" y="943.5" font-size="11.3" fill="#222" text-anchor="middle" transform="rotate(-90 41.3 943.5)" stroke="#222" stroke-width="0.36">Relative mRNA expression</text>
<rect x="74.6" y="854.2" width="7.5" height="8" fill="#a7bcd1"/>
<text x="88.9" y="862.2" font-size="11.5" fill="#262626" stroke="#262626" stroke-width="0.36">Control</text>
<rect x="149.3" y="854.2" width="7.5" height="8" fill="#c97c6c"/>
<text x="166.2" y="862.2" font-size="11.5" fill="#262626" stroke="#262626" stroke-width="0.36">CervPlug</text>
<line x1="201" y1="928.5" x2="213" y2="928.5" stroke="#888" stroke-width="0.8"/>
<text x="207.0" y="927.3" font-size="9" fill="#444" text-anchor="middle" stroke="#444" stroke-width="0.36">**</text>
<text x="253.5" y="862.4" font-size="16" fill="#111" font-weight="bold" stroke="#111" stroke-width="0.35">J</text>
<polyline points="316.9,864.2 502.5,864.2 502.5,1025 316.9,1025 316.9,864.2" fill="none" stroke="#c2c2c2" stroke-width="1"/>
<line x1="312.9" y1="1025.0" x2="316.9" y2="1025.0" stroke="#c2c2c2" stroke-width="1"/>
<text x="309.29999999999995" y="1028.9" font-size="11" fill="#262626" text-anchor="end" stroke="#262626" stroke-width="0.4">0.0</text>
<line x1="312.9" y1="984.8" x2="316.9" y2="984.8" stroke="#c2c2c2" stroke-width="1"/>
<text x="309.29999999999995" y="988.6999999999999" font-size="11" fill="#262626" text-anchor="end" stroke="#262626" stroke-width="0.4">1.0</text>
<line x1="312.9" y1="944.6" x2="316.9" y2="944.6" stroke="#c2c2c2" stroke-width="1"/>
<text x="309.29999999999995" y="948.5" font-size="11" fill="#262626" text-anchor="end" stroke="#262626" stroke-width="0.4">2.0</text>
<line x1="312.9" y1="904.4000000000001" x2="316.9" y2="904.4000000000001" stroke="#c2c2c2" stroke-width="1"/>
<text x="309.29999999999995" y="908.3000000000001" font-size="11" fill="#262626" text-anchor="end" stroke="#262626" stroke-width="0.4">3.0</text>
<line x1="312.9" y1="864.2" x2="316.9" y2="864.2" stroke="#c2c2c2" stroke-width="1"/>
<text x="309.29999999999995" y="868.1" font-size="11" fill="#262626" text-anchor="end" stroke="#262626" stroke-width="0.4">4.0</text>
<line x1="314.4" y1="1004.9" x2="316.9" y2="1004.9" stroke="#c2c2c2" stroke-width="1"/>
<line x1="314.4" y1="964.7" x2="316.9" y2="964.7" stroke="#c2c2c2" stroke-width="1"/>
<line x1="314.4" y1="924.5" x2="316.9" y2="924.5" stroke="#c2c2c2" stroke-width="1"/>
<line x1="314.4" y1="884.3000000000001" x2="316.9" y2="884.3000000000001" stroke="#c2c2c2" stroke-width="1"/>
<line x1="335.65" y1="1025" x2="335.65" y2="1029" stroke="#c2c2c2" stroke-width="1"/>
<line x1="372.5" y1="1025" x2="372.5" y2="1029" stroke="#c2c2c2" stroke-width="1"/>
<line x1="409.5" y1="1025" x2="409.5" y2="1029" stroke="#c2c2c2" stroke-width="1"/>
<line x1="447.35" y1="1025" x2="447.35" y2="1029" stroke="#c2c2c2" stroke-width="1"/>
<line x1="484.5" y1="1025" x2="484.5" y2="1029" stroke="#c2c2c2" stroke-width="1"/>
<rect x="322.8" y="985.604" width="12.300000000000011" height="39.39599999999996" fill="#a7bcd1"/>
<line x1="328.95000000000005" y1="987.212" x2="328.95000000000005" y2="983.192" stroke="#7c8494" stroke-width="0.9"/>
<line x1="326.45000000000005" y1="983.192" x2="331.45000000000005" y2="983.192" stroke="#7c8494" stroke-width="0.9"/>
<line x1="326.45000000000005" y1="987.212" x2="331.45000000000005" y2="987.212" stroke="#7c8494" stroke-width="0.9"/>
<circle cx="328.95000000000005" cy="980.78" r="1.9" fill="#8494aa" stroke="#76849a" stroke-width="0.9"/>
<circle cx="324.95000000000005" cy="986.006" r="1.9" fill="none" stroke="#76849a" stroke-width="0.9"/>
<circle cx="332.95000000000005" cy="986.006" r="1.9" fill="none" stroke="#76849a" stroke-width="0.9"/>
<rect x="336.2" y="936.5600000000001" width="11.600000000000023" height="88.43999999999994" fill="#c97c6c"/>
<line x1="342.0" y1="939.7760000000001" x2="342.0" y2="932.5400000000001" stroke="#8e5048" stroke-width="0.9"/>
<line x1="339.5" y1="932.5400000000001" x2="344.5" y2="932.5400000000001" stroke="#8e5048" stroke-width="0.9"/>
<line x1="339.5" y1="939.7760000000001" x2="344.5" y2="939.7760000000001" stroke="#8e5048" stroke-width="0.9"/>
<circle cx="342.0" cy="931.736" r="1.9" fill="#a4584f" stroke="#94504a" stroke-width="0.9"/>
<circle cx="346.0" cy="933.344" r="1.9" fill="none" stroke="#94504a" stroke-width="0.9"/>
<circle cx="342.0" cy="939.7760000000001" r="1.9" fill="none" stroke="#94504a" stroke-width="0.9"/>
<rect x="359.7" y="985.202" width="12.300000000000011" height="39.798" fill="#a7bcd1"/>
<line x1="365.85" y1="986.408" x2="365.85" y2="983.594" stroke="#7c8494" stroke-width="0.9"/>
<line x1="363.35" y1="983.594" x2="368.35" y2="983.594" stroke="#7c8494" stroke-width="0.9"/>
<line x1="363.35" y1="986.408" x2="368.35" y2="986.408" stroke="#7c8494" stroke-width="0.9"/>
<circle cx="365.85" cy="983.192" r="1.9" fill="#8494aa" stroke="#76849a" stroke-width="0.9"/>
<circle cx="361.85" cy="985.202" r="1.9" fill="none" stroke="#76849a" stroke-width="0.9"/>
<circle cx="369.85" cy="985.202" r="1.9" fill="none" stroke="#76849a" stroke-width="0.9"/>
<rect x="373" y="982.79" width="11.699999999999989" height="42.210000000000036" fill="#c97c6c"/>
<line x1="378.85" y1="990.83" x2="378.85" y2="974.75" stroke="#8e5048" stroke-width="0.9"/>
<line x1="376.35" y1="974.75" x2="381.35" y2="974.75" stroke="#8e5048" stroke-width="0.9"/>
<line x1="376.35" y1="990.83" x2="381.35" y2="990.83" stroke="#8e5048" stroke-width="0.9"/>
<circle cx="378.85" cy="976.76" r="1.9" fill="#a4584f" stroke="#94504a" stroke-width="0.9"/>
<circle cx="382.85" cy="976.76" r="1.9" fill="none" stroke="#94504a" stroke-width="0.9"/>
<circle cx="378.85" cy="990.0260000000001" r="1.9" fill="none" stroke="#94504a" stroke-width="0.9"/>
<rect x="397" y="984.8" width="12" height="40.200000000000045" fill="#a7bcd1"/>
<line x1="403.0" y1="989.624" x2="403.0" y2="979.976" stroke="#7c8494" stroke-width="0.9"/>
<line x1="400.5" y1="979.976" x2="405.5" y2="979.976" stroke="#7c8494" stroke-width="0.9"/>
<line x1="400.5" y1="989.624" x2="405.5" y2="989.624" stroke="#7c8494" stroke-width="0.9"/>
<circle cx="403.0" cy="978.77" r="1.9" fill="#8494aa" stroke="#76849a" stroke-width="0.9"/>
<circle cx="403.0" cy="985.604" r="1.9" fill="none" stroke="#76849a" stroke-width="0.9"/>
<circle cx="403.0" cy="989.624" r="1.9" fill="none" stroke="#76849a" stroke-width="0.9"/>
<rect x="410" y="915.6560000000001" width="12.399999999999977" height="109.34399999999994" fill="#c97c6c"/>
<line x1="416.2" y1="930.53" x2="416.2" y2="901.184" stroke="#8e5048" stroke-width="0.9"/>
<line x1="413.7" y1="901.184" x2="418.7" y2="901.184" stroke="#8e5048" stroke-width="0.9"/>
<line x1="413.7" y1="930.53" x2="418.7" y2="930.53" stroke="#8e5048" stroke-width="0.9"/>
<circle cx="416.2" cy="902.3900000000001" r="1.9" fill="#a4584f" stroke="#94504a" stroke-width="0.9"/>
<circle cx="416.2" cy="908.4200000000001" r="1.9" fill="none" stroke="#94504a" stroke-width="0.9"/>
<circle cx="416.2" cy="928.52" r="1.9" fill="none" stroke="#94504a" stroke-width="0.9"/>
<rect x="434.7" y="977.966" width="12.300000000000011" height="47.03399999999999" fill="#a7bcd1"/>
<line x1="440.85" y1="1008.116" x2="440.85" y2="953.444" stroke="#7c8494" stroke-width="0.9"/>
<line x1="438.35" y1="953.444" x2="443.35" y2="953.444" stroke="#7c8494" stroke-width="0.9"/>
<line x1="438.35" y1="1008.116" x2="443.35" y2="1008.116" stroke="#7c8494" stroke-width="0.9"/>
<circle cx="440.85" cy="952.64" r="1.9" fill="#8494aa" stroke="#76849a" stroke-width="0.9"/>
<circle cx="440.85" cy="972.74" r="1.9" fill="none" stroke="#76849a" stroke-width="0.9"/>
<circle cx="440.85" cy="1006.91" r="1.9" fill="none" stroke="#76849a" stroke-width="0.9"/>
<rect x="447.7" y="892.34" width="12.300000000000011" height="132.65999999999997" fill="#c97c6c"/>
<line x1="453.85" y1="900.38" x2="453.85" y2="872.24" stroke="#8e5048" stroke-width="0.9"/>
<line x1="451.35" y1="872.24" x2="456.35" y2="872.24" stroke="#8e5048" stroke-width="0.9"/>
<line x1="451.35" y1="900.38" x2="456.35" y2="900.38" stroke="#8e5048" stroke-width="0.9"/>
<circle cx="453.85" cy="874.25" r="1.9" fill="#a4584f" stroke="#94504a" stroke-width="0.9"/>
<circle cx="453.85" cy="896.36" r="1.9" fill="none" stroke="#94504a" stroke-width="0.9"/>
<circle cx="453.85" cy="899.576" r="1.9" fill="none" stroke="#94504a" stroke-width="0.9"/>
<rect x="471.6" y="984.8" width="12.399999999999977" height="40.200000000000045" fill="#a7bcd1"/>
<line x1="477.8" y1="987.614" x2="477.8" y2="981.5840000000001" stroke="#7c8494" stroke-width="0.9"/>
<line x1="475.3" y1="981.5840000000001" x2="480.3" y2="981.5840000000001" stroke="#7c8494" stroke-width="0.9"/>
<line x1="475.3" y1="987.614" x2="480.3" y2="987.614" stroke="#7c8494" stroke-width="0.9"/>
<circle cx="473.8" cy="981.5840000000001" r="1.9" fill="#8494aa" stroke="#76849a" stroke-width="0.9"/>
<circle cx="481.8" cy="981.5840000000001" r="1.9" fill="none" stroke="#76849a" stroke-width="0.9"/>
<circle cx="477.8" cy="986.8100000000001" r="1.9" fill="none" stroke="#76849a" stroke-width="0.9"/>
<rect x="485" y="915.6560000000001" width="11.199999999999989" height="109.34399999999994" fill="#c97c6c"/>
<line x1="490.6" y1="936.5600000000001" x2="490.6" y2="894.35" stroke="#8e5048" stroke-width="0.9"/>
<line x1="488.1" y1="894.35" x2="493.1" y2="894.35" stroke="#8e5048" stroke-width="0.9"/>
<line x1="488.1" y1="936.5600000000001" x2="493.1" y2="936.5600000000001" stroke="#8e5048" stroke-width="0.9"/>
<circle cx="490.6" cy="894.35" r="1.9" fill="#a4584f" stroke="#94504a" stroke-width="0.9"/>
<circle cx="490.6" cy="916.46" r="1.9" fill="none" stroke="#94504a" stroke-width="0.9"/>
<circle cx="490.6" cy="936.5600000000001" r="1.9" fill="none" stroke="#94504a" stroke-width="0.9"/>
<text x="342" y="1043" font-size="11.3" fill="#222" text-anchor="end" transform="rotate(-30 342 1043)" stroke="#222" stroke-width="0.36">IL-4</text>
<text x="381" y="1043" font-size="11.3" fill="#222" text-anchor="end" transform="rotate(-30 381 1043)" stroke="#222" stroke-width="0.36">IL-10</text>
<text x="418" y="1043" font-size="11.3" fill="#222" text-anchor="end" transform="rotate(-30 418 1043)" stroke="#222" stroke-width="0.36">INF-α</text>
<text x="455.5" y="1041" font-size="11.3" fill="#222" text-anchor="end" transform="rotate(-30 455.5 1041)" stroke="#222" stroke-width="0.36">CXCL-10</text>
<text x="493" y="1043" font-size="11.3" fill="#222" text-anchor="end" transform="rotate(-30 493 1043)" stroke="#222" stroke-width="0.36">iNOS</text>
<text x="279.3" y="938.8" font-size="11.3" fill="#222" text-anchor="middle" transform="rotate(-90 279.3 938.8)" stroke="#222" stroke-width="0.36">Relative mRNA expression</text>
<rect x="328" y="854.4" width="7.5" height="8" fill="#a7bcd1"/>
<text x="344.3" y="862.4" font-size="11.5" fill="#262626" stroke="#262626" stroke-width="0.36">Control</text>
<rect x="421.6" y="854.4" width="7.5" height="8" fill="#c97c6c"/>
<text x="440" y="862.4" font-size="11.5" fill="#262626" stroke="#262626" stroke-width="0.36">CervPlug</text>
<line x1="326" y1="922.5" x2="344" y2="922.5" stroke="#888" stroke-width="0.8"/>
<text x="335.0" y="921.3" font-size="9" fill="#444" text-anchor="middle" stroke="#444" stroke-width="0.36">**</text>
<line x1="401" y1="891" x2="419" y2="891" stroke="#888" stroke-width="0.8"/>
<text x="410.0" y="889.8" font-size="9" fill="#444" text-anchor="middle" stroke="#444" stroke-width="0.36">*</text>
<line x1="474" y1="891" x2="493" y2="891" stroke="#888" stroke-width="0.8"/>
<text x="483.5" y="889.8" font-size="9" fill="#444" text-anchor="middle" stroke="#444" stroke-width="0.36">*</text>
<text x="543.5" y="859.3" font-size="16" fill="#111" font-weight="bold" stroke="#111" stroke-width="0.35">K</text>
<polyline points="604.3,865.9 781.3,865.9 781.3,1026.2 604.3,1026.2 604.3,865.9" fill="none" stroke="#c2c2c2" stroke-width="1"/>
<line x1="600.3" y1="1026.2" x2="604.3" y2="1026.2" stroke="#c2c2c2" stroke-width="1"/>
<text x="596.6999999999999" y="1030.1000000000001" font-size="11" fill="#262626" text-anchor="end" stroke="#262626" stroke-width="0.4">0.0</text>
<line x1="600.3" y1="972.7666666666667" x2="604.3" y2="972.7666666666667" stroke="#c2c2c2" stroke-width="1"/>
<text x="596.6999999999999" y="976.6666666666666" font-size="11" fill="#262626" text-anchor="end" stroke="#262626" stroke-width="0.4">0.5</text>
<line x1="600.3" y1="919.3333333333334" x2="604.3" y2="919.3333333333334" stroke="#c2c2c2" stroke-width="1"/>
<text x="596.6999999999999" y="923.2333333333333" font-size="11" fill="#262626" text-anchor="end" stroke="#262626" stroke-width="0.4">1.0</text>
<line x1="600.3" y1="865.9" x2="604.3" y2="865.9" stroke="#c2c2c2" stroke-width="1"/>
<text x="596.6999999999999" y="869.8" font-size="11" fill="#262626" text-anchor="end" stroke="#262626" stroke-width="0.4">1.5</text>
<line x1="601.8" y1="999.4833333333333" x2="604.3" y2="999.4833333333333" stroke="#c2c2c2" stroke-width="1"/>
<line x1="601.8" y1="946.05" x2="604.3" y2="946.05" stroke="#c2c2c2" stroke-width="1"/>
<line x1="601.8" y1="892.6166666666667" x2="604.3" y2="892.6166666666667" stroke="#c2c2c2" stroke-width="1"/>
<line x1="626.65" y1="1026.2" x2="626.65" y2="1030.2" stroke="#c2c2c2" stroke-width="1"/>
<line x1="671.5" y1="1026.2" x2="671.5" y2="1030.2" stroke="#c2c2c2" stroke-width="1"/>
<line x1="715.85" y1="1026.2" x2="715.85" y2="1030.2" stroke="#c2c2c2" stroke-width="1"/>
<line x1="760.95" y1="1026.2" x2="760.95" y2="1030.2" stroke="#c2c2c2" stroke-width="1"/>
<rect x="611.2" y="919.3333333333334" width="15.099999999999909" height="106.86666666666667" fill="#a7bcd1"/>
<line x1="618.75" y1="930.02" x2="618.75" y2="908.6466666666666" stroke="#7c8494" stroke-width="0.9"/>
<line x1="616.25" y1="908.6466666666666" x2="621.25" y2="908.6466666666666" stroke="#7c8494" stroke-width="0.9"/>
<line x1="616.25" y1="930.02" x2="621.25" y2="930.02" stroke="#7c8494" stroke-width="0.9"/>
<circle cx="618.75" cy="906.5093333333333" r="1.9" fill="#8494aa" stroke="#76849a" stroke-width="0.9"/>
<circle cx="618.75" cy="920.402" r="1.9" fill="none" stroke="#76849a" stroke-width="0.9"/>
<circle cx="618.75" cy="927.8826666666666" r="1.9" fill="none" stroke="#76849a" stroke-width="0.9"/>
<rect x="627" y="956.7366666666667" width="14.299999999999955" height="69.46333333333337" fill="#c97c6c"/>
<line x1="634.15" y1="959.9426666666667" x2="634.15" y2="953.5306666666667" stroke="#8e5048" stroke-width="0.9"/>
<line x1="631.65" y1="953.5306666666667" x2="636.65" y2="953.5306666666667" stroke="#8e5048" stroke-width="0.9"/>
<line x1="631.65" y1="959.9426666666667" x2="636.65" y2="959.9426666666667" stroke="#8e5048" stroke-width="0.9"/>
<circle cx="629.15" cy="953.5306666666667" r="1.9" fill="#a4584f" stroke="#94504a" stroke-width="0.9"/>
<circle cx="639.15" cy="953.5306666666667" r="1.9" fill="none" stroke="#94504a" stroke-width="0.9"/>
<circle cx="634.15" cy="959.9426666666667" r="1.9" fill="none" stroke="#94504a" stroke-width="0.9"/>
<rect x="656" y="919.3333333333334" width="15" height="106.86666666666667" fill="#a7bcd1"/>
<line x1="663.5" y1="921.4706666666667" x2="663.5" y2="917.196" stroke="#7c8494" stroke-width="0.9"/>
<line x1="661.0" y1="917.196" x2="666.0" y2="917.196" stroke="#7c8494" stroke-width="0.9"/>
<line x1="661.0" y1="921.4706666666667" x2="666.0" y2="921.4706666666667" stroke="#7c8494" stroke-width="0.9"/>
<circle cx="659.5" cy="917.196" r="1.9" fill="#8494aa" stroke="#76849a" stroke-width="0.9"/>
<circle cx="663.5" cy="919.3333333333334" r="1.9" fill="none" stroke="#76849a" stroke-width="0.9"/>
<circle cx="667.5" cy="917.196" r="1.9" fill="none" stroke="#76849a" stroke-width="0.9"/>
<rect x="672" y="923.608" width="13.399999999999977" height="102.5920000000001" fill="#c97c6c"/>
<line x1="678.7" y1="949.256" x2="678.7" y2="899.0286666666667" stroke="#8e5048" stroke-width="0.9"/>
<line x1="676.2" y1="899.0286666666667" x2="681.2" y2="899.0286666666667" stroke="#8e5048" stroke-width="0.9"/>
<line x1="676.2" y1="949.256" x2="681.2" y2="949.256" stroke="#8e5048" stroke-width="0.9"/>
<circle cx="678.7" cy="906.5093333333333" r="1.9" fill="#a4584f" stroke="#94504a" stroke-width="0.9"/>
<circle cx="678.7" cy="913.99" r="1.9" fill="none" stroke="#94504a" stroke-width="0.9"/>
<circle cx="678.7" cy="949.256" r="1.9" fill="none" stroke="#94504a" stroke-width="0.9"/>
<rect x="701" y="918.2646666666667" width="14.5" height="107.93533333333335" fill="#a7bcd1"/>
<line x1="708.25" y1="940.7066666666667" x2="708.25" y2="892.6166666666667" stroke="#7c8494" stroke-width="0.9"/>
<line x1="705.75" y1="892.6166666666667" x2="710.75" y2="892.6166666666667" stroke="#7c8494" stroke-width="0.9"/>
<line x1="705.75" y1="940.7066666666667" x2="710.75" y2="940.7066666666667" stroke="#7c8494" stroke-width="0.9"/>
<circle cx="708.25" cy="890.4793333333333" r="1.9" fill="#8494aa" stroke="#76849a" stroke-width="0.9"/>
<circle cx="708.25" cy="926.814" r="1.9" fill="none" stroke="#76849a" stroke-width="0.9"/>
<circle cx="708.25" cy="938.5693333333334" r="1.9" fill="none" stroke="#76849a" stroke-width="0.9"/>
<rect x="716.2" y="958.874" width="14.299999999999955" height="67.32600000000002" fill="#c97c6c"/>
<line x1="723.35" y1="964.2173333333334" x2="723.35" y2="952.462" stroke="#8e5048" stroke-width="0.9"/>
<line x1="720.85" y1="952.462" x2="725.85" y2="952.462" stroke="#8e5048" stroke-width="0.9"/>
<line x1="720.85" y1="964.2173333333334" x2="725.85" y2="964.2173333333334" stroke="#8e5048" stroke-width="0.9"/>
<circle cx="718.35" cy="954.5993333333333" r="1.9" fill="#a4584f" stroke="#94504a" stroke-width="0.9"/>
<circle cx="728.35" cy="955.668" r="1.9" fill="none" stroke="#94504a" stroke-width="0.9"/>
<circle cx="723.35" cy="962.08" r="1.9" fill="none" stroke="#94504a" stroke-width="0.9"/>
<rect x="745.6" y="919.3333333333334" width="15.0" height="106.86666666666667" fill="#a7bcd1"/>
<line x1="753.1" y1="934.2946666666667" x2="753.1" y2="901.1659999999999" stroke="#7c8494" stroke-width="0.9"/>
<line x1="750.6" y1="901.1659999999999" x2="755.6" y2="901.1659999999999" stroke="#7c8494" stroke-width="0.9"/>
<line x1="750.6" y1="934.2946666666667" x2="755.6" y2="934.2946666666667" stroke="#7c8494" stroke-width="0.9"/>
<circle cx="753.1" cy="901.1659999999999" r="1.9" fill="#8494aa" stroke="#76849a" stroke-width="0.9"/>
<circle cx="753.1" cy="921.4706666666667" r="1.9" fill="none" stroke="#76849a" stroke-width="0.9"/>
<circle cx="753.1" cy="932.1573333333333" r="1.9" fill="none" stroke="#76849a" stroke-width="0.9"/>
<rect x="761.3" y="985.5906666666667" width="14.300000000000068" height="40.609333333333325" fill="#c97c6c"/>
<line x1="768.45" y1="987.7280000000001" x2="768.45" y2="982.3846666666667" stroke="#8e5048" stroke-width="0.9"/>
<line x1="765.95" y1="982.3846666666667" x2="770.95" y2="982.3846666666667" stroke="#8e5048" stroke-width="0.9"/>
<line x1="765.95" y1="987.7280000000001" x2="770.95" y2="987.7280000000001" stroke="#8e5048" stroke-width="0.9"/>
<circle cx="763.45" cy="982.3846666666667" r="1.9" fill="#a4584f" stroke="#94504a" stroke-width="0.9"/>
<circle cx="773.45" cy="981.316" r="1.9" fill="none" stroke="#94504a" stroke-width="0.9"/>
<circle cx="768.45" cy="986.6593333333334" r="1.9" fill="none" stroke="#94504a" stroke-width="0.9"/>
<text x="633" y="1040.5" font-size="11.3" fill="#222" text-anchor="end" transform="rotate(-30 633 1040.5)" stroke="#222" stroke-width="0.36">TNF-α</text>
<text x="677" y="1042" font-size="11.3" fill="#222" text-anchor="end" transform="rotate(-30 677 1042)" stroke="#222" stroke-width="0.36">IL-6</text>
<text x="724.6" y="1041" font-size="11.3" fill="#222" text-anchor="end" transform="rotate(-30 724.6 1041)" stroke="#222" stroke-width="0.36">IL-1β</text>
<text x="768.6" y="1043" font-size="11.3" fill="#222" text-anchor="end" transform="rotate(-30 768.6 1043)" stroke="#222" stroke-width="0.36">IL-12</text>
<text x="568" y="945.3" font-size="11.3" fill="#222" text-anchor="middle" transform="rotate(-90 568 945.3)" stroke="#222" stroke-width="0.36">Relative mRNA expression</text>
<rect x="616.2" y="854.2" width="7.5" height="8" fill="#a7bcd1"/>
<text x="630.3" y="862.2" font-size="11.5" fill="#262626" stroke="#262626" stroke-width="0.36">Control</text>
<rect x="689.8" y="854.2" width="7.5" height="8" fill="#c97c6c"/>
<text x="707" y="862.2" font-size="11.5" fill="#262626" stroke="#262626" stroke-width="0.36">CervPlug</text>
<line x1="620" y1="891.5" x2="635" y2="891.5" stroke="#888" stroke-width="0.8"/>
<text x="627.5" y="890.3" font-size="9" fill="#444" text-anchor="middle" stroke="#444" stroke-width="0.36">*</text>
<line x1="754" y1="891.5" x2="768" y2="891.5" stroke="#888" stroke-width="0.8"/>
<text x="761.0" y="890.3" font-size="9" fill="#444" text-anchor="middle" stroke="#444" stroke-width="0.36">*</text>
</svg>
</body></html>
